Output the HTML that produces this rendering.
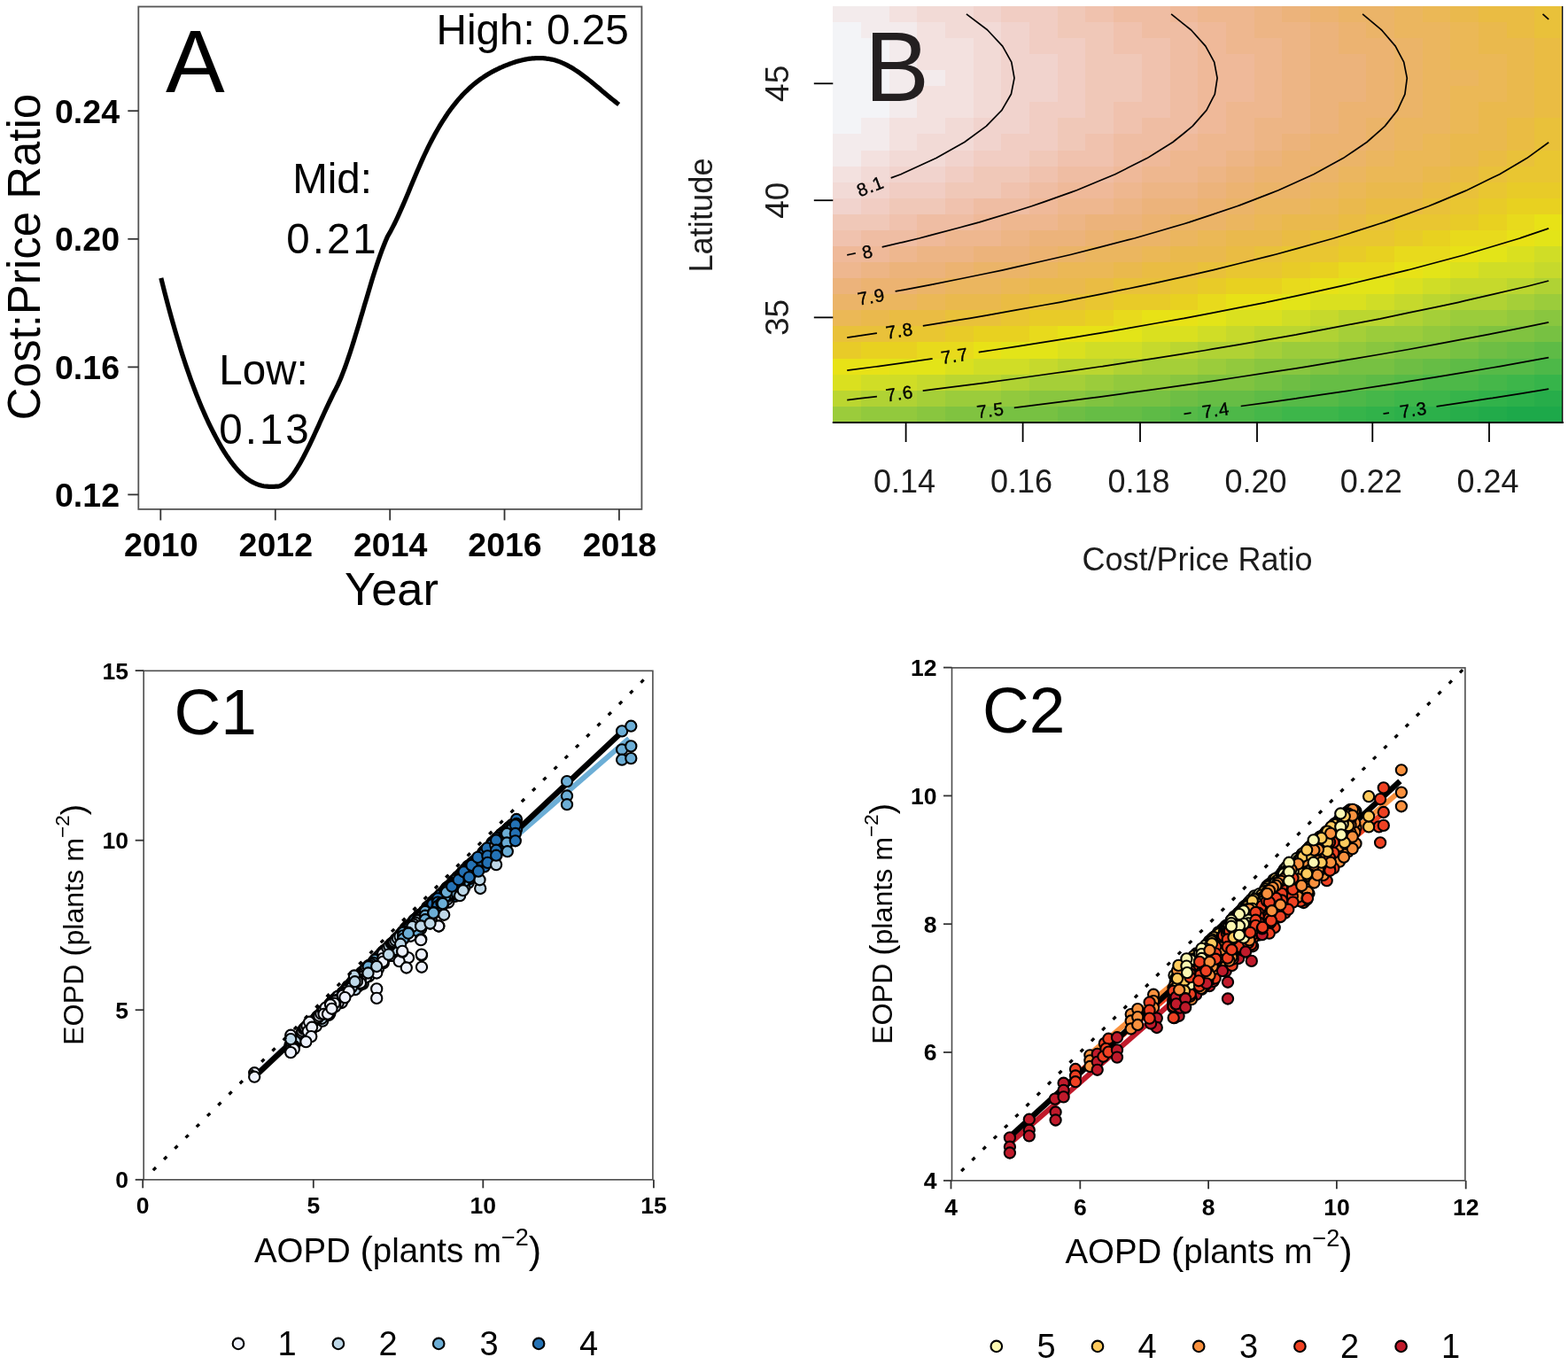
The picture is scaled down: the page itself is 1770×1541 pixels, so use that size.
<!DOCTYPE html>
<html lang="en"><head><meta charset="utf-8"><title>Figure</title>
<style>
html,body{margin:0;padding:0;background:#fff}
body{width:1770px;height:1541px;overflow:hidden}
svg{display:block}
text{font-family:"Liberation Sans",Arial,Helvetica,sans-serif}
</style></head><body>
<svg width="1770" height="1541" viewBox="0 0 1770 1541">
<rect width="1770" height="1541" fill="#fff"/>
<g id="panelA">
<rect x="156.3" y="7.5" width="568.1" height="567.4" fill="none" stroke="#555" stroke-width="1.8"/>
<line x1="144.3" y1="125.2" x2="156.3" y2="125.2" stroke="#333" stroke-width="1.8"/>
<text x="135" y="138.8" font-size="37.5" text-anchor="end" font-weight="bold">0.24</text>
<line x1="144.3" y1="269.8" x2="156.3" y2="269.8" stroke="#333" stroke-width="1.8"/>
<text x="135" y="283.4" font-size="37.5" text-anchor="end" font-weight="bold">0.20</text>
<line x1="144.3" y1="414.4" x2="156.3" y2="414.4" stroke="#333" stroke-width="1.8"/>
<text x="135" y="428" font-size="37.5" text-anchor="end" font-weight="bold">0.16</text>
<line x1="144.3" y1="558.4" x2="156.3" y2="558.4" stroke="#333" stroke-width="1.8"/>
<text x="135" y="572" font-size="37.5" text-anchor="end" font-weight="bold">0.12</text>
<line x1="181.3" y1="574.9" x2="181.3" y2="587.4" stroke="#333" stroke-width="1.8"/>
<text x="181.8" y="627.8" font-size="37.5" text-anchor="middle" font-weight="bold">2010</text>
<line x1="310.8" y1="574.9" x2="310.8" y2="587.4" stroke="#333" stroke-width="1.8"/>
<text x="311.3" y="627.8" font-size="37.5" text-anchor="middle" font-weight="bold">2012</text>
<line x1="440.2" y1="574.9" x2="440.2" y2="587.4" stroke="#333" stroke-width="1.8"/>
<text x="440.7" y="627.8" font-size="37.5" text-anchor="middle" font-weight="bold">2014</text>
<line x1="569.5" y1="574.9" x2="569.5" y2="587.4" stroke="#333" stroke-width="1.8"/>
<text x="570" y="627.8" font-size="37.5" text-anchor="middle" font-weight="bold">2016</text>
<line x1="698.9" y1="574.9" x2="698.9" y2="587.4" stroke="#333" stroke-width="1.8"/>
<text x="699.4" y="627.8" font-size="37.5" text-anchor="middle" font-weight="bold">2018</text>
<text x="442" y="682.8" font-size="52.5" text-anchor="middle">Year</text>
<text x="44.5" y="290" font-size="51" text-anchor="middle" transform="rotate(-90 44.5 290)">Cost:Price Ratio</text>
<text x="187" y="104.4" font-size="100">A</text>
<text x="492.5" y="50.3" font-size="47.7">High: 0.25</text>
<text x="375" y="217.6" font-size="47.5" text-anchor="middle">Mid:</text>
<text x="375.5" y="285.7" font-size="47.5" text-anchor="middle" letter-spacing="3">0.21</text>
<text x="297.5" y="433.6" font-size="47.5" text-anchor="middle">Low:</text>
<text x="299.5" y="501" font-size="47.5" text-anchor="middle" letter-spacing="3">0.13</text>
<path d="M181.8,313.9 L183.8,321.9 L185.8,329.8 L187.8,337.5 L189.8,345.1 L191.8,352.5 L193.8,359.7 L195.8,366.8 L197.8,373.7 L199.8,380.5 L201.8,387.1 L203.7,393.5 L205.7,399.9 L207.7,406.0 L209.7,412.1 L211.7,417.9 L213.7,423.7 L215.7,429.3 L217.7,434.7 L219.7,440.0 L221.7,445.2 L223.7,450.2 L225.7,455.2 L227.7,459.9 L229.7,464.6 L231.7,469.1 L233.7,473.5 L235.7,477.8 L237.7,481.9 L239.7,485.9 L241.7,489.8 L243.7,493.6 L245.7,497.3 L247.6,500.8 L249.6,504.3 L251.6,507.6 L253.6,510.8 L255.6,513.9 L257.6,516.8 L259.6,519.7 L261.6,522.4 L263.6,525.0 L265.6,527.4 L267.6,529.7 L269.6,531.9 L271.6,534.0 L273.6,535.9 L275.6,537.7 L277.6,539.3 L279.6,540.8 L281.6,542.2 L283.6,543.4 L285.6,544.6 L287.6,545.5 L289.5,546.4 L291.5,547.1 L293.5,547.8 L295.5,548.3 L297.5,548.7 L299.5,549.0 L301.5,549.2 L303.5,549.4 L305.5,549.4 L307.5,549.4 L309.5,549.3 L311.5,549.2 L313.5,549.1 L315.5,548.7 L317.5,548.0 L319.5,546.9 L321.5,545.5 L323.5,543.8 L325.5,541.9 L327.5,539.7 L329.5,537.2 L331.5,534.5 L333.4,531.6 L335.4,528.5 L337.4,525.2 L339.4,521.7 L341.4,518.1 L343.4,514.3 L345.4,510.4 L347.4,506.4 L349.4,502.3 L351.4,498.1 L353.4,493.8 L355.4,489.5 L357.4,485.1 L359.4,480.8 L361.4,476.3 L363.4,471.9 L365.4,467.5 L367.4,463.2 L369.4,458.9 L371.4,454.6 L373.4,450.5 L375.4,446.4 L377.3,442.4 L379.3,438.7 L381.3,434.6 L383.3,430.2 L385.3,425.4 L387.3,420.4 L389.3,415.1 L391.3,409.5 L393.3,403.7 L395.3,397.7 L397.3,391.5 L399.3,385.1 L401.3,378.6 L403.3,372.0 L405.3,365.4 L407.3,358.6 L409.3,351.9 L411.3,345.1 L413.3,338.4 L415.3,331.7 L417.3,325.0 L419.2,318.5 L421.2,312.0 L423.2,305.7 L425.2,299.6 L427.2,293.6 L429.2,287.9 L431.2,282.4 L433.2,277.2 L435.2,272.2 L437.2,267.6 L439.2,264.0 L441.2,260.4 L443.2,256.6 L445.2,252.7 L447.2,248.6 L449.2,244.3 L451.2,239.9 L453.2,235.4 L455.2,230.9 L457.2,226.2 L459.2,221.5 L461.2,216.8 L463.1,212.0 L465.1,207.3 L467.1,202.5 L469.1,197.8 L471.1,193.1 L473.1,188.4 L475.1,183.9 L477.1,179.4 L479.1,175.0 L481.1,170.8 L483.1,166.6 L485.1,162.6 L487.1,158.7 L489.1,155.0 L491.1,151.3 L493.1,147.7 L495.1,144.3 L497.1,140.9 L499.1,137.7 L501.1,134.6 L503.1,131.5 L505.0,128.6 L507.0,125.8 L509.0,123.0 L511.0,120.4 L513.0,117.8 L515.0,115.3 L517.0,112.9 L519.0,110.6 L521.0,108.4 L523.0,106.3 L525.0,104.2 L527.0,102.3 L529.0,100.4 L531.0,98.5 L533.0,96.8 L535.0,95.1 L537.0,93.4 L539.0,91.9 L541.0,90.4 L543.0,88.9 L545.0,87.6 L547.0,86.2 L548.9,85.0 L550.9,83.7 L552.9,82.6 L554.9,81.4 L556.9,80.4 L558.9,79.3 L560.9,78.3 L562.9,77.4 L564.9,76.4 L566.9,75.6 L568.9,74.7 L570.9,73.9 L572.9,73.1 L574.9,72.3 L576.9,71.6 L578.9,70.9 L580.9,70.2 L582.9,69.6 L584.9,69.0 L586.9,68.5 L588.9,68.0 L590.9,67.5 L592.8,67.1 L594.8,66.7 L596.8,66.4 L598.8,66.2 L600.8,65.9 L602.8,65.8 L604.8,65.6 L606.8,65.6 L608.8,65.5 L610.8,65.6 L612.8,65.7 L614.8,65.8 L616.8,66.1 L618.8,66.3 L620.8,66.7 L622.8,67.1 L624.8,67.6 L626.8,68.1 L628.8,68.7 L630.8,69.4 L632.8,70.1 L634.7,71.0 L636.7,71.9 L638.7,72.8 L640.7,73.9 L642.7,75.0 L644.7,76.1 L646.7,77.3 L648.7,78.6 L650.7,79.9 L652.7,81.2 L654.7,82.6 L656.7,84.1 L658.7,85.6 L660.7,87.1 L662.7,88.6 L664.7,90.2 L666.7,91.8 L668.7,93.4 L670.7,95.1 L672.7,96.7 L674.7,98.4 L676.7,100.0 L678.6,101.7 L680.6,103.4 L682.6,105.1 L684.6,106.7 L686.6,108.4 L688.6,110.1 L690.6,111.7 L692.6,113.3 L694.6,114.9 L696.6,116.5 L698.6,118.0" fill="none" stroke="#000" stroke-width="5.2" stroke-linejoin="round"/>
</g>
<g id="panelB">
<g shape-rendering="crispEdges">
<rect x="940" y="7" width="64" height="18" fill="#f3ebec"/>
<rect x="1004" y="7" width="31" height="18" fill="#f3e1df"/>
<rect x="1035" y="7" width="64" height="18" fill="#f2dad6"/>
<rect x="1099" y="7" width="31" height="18" fill="#f1d3cd"/>
<rect x="1130" y="7" width="64" height="18" fill="#f1cdc3"/>
<rect x="1194" y="7" width="31" height="18" fill="#f0c8b8"/>
<rect x="1225" y="7" width="32" height="18" fill="#f0c2ae"/>
<rect x="1257" y="7" width="64" height="18" fill="#efbda3"/>
<rect x="1321" y="7" width="31" height="18" fill="#efb999"/>
<rect x="1352" y="7" width="64" height="18" fill="#eeb78f"/>
<rect x="1416" y="7" width="31" height="18" fill="#edb585"/>
<rect x="1447" y="7" width="32" height="18" fill="#ecb37b"/>
<rect x="1479" y="7" width="32" height="18" fill="#ecb371"/>
<rect x="1511" y="7" width="63" height="18" fill="#ebb468"/>
<rect x="1574" y="7" width="32" height="18" fill="#ebb65f"/>
<rect x="1606" y="7" width="31" height="18" fill="#ebb856"/>
<rect x="1637" y="7" width="32" height="18" fill="#eab94d"/>
<rect x="1669" y="7" width="63" height="18" fill="#eabc43"/>
<rect x="1732" y="7" width="32" height="18" fill="#e9c13a"/>
<rect x="940" y="25" width="32" height="18" fill="#f3f4f7"/>
<rect x="972" y="25" width="63" height="18" fill="#f3ebec"/>
<rect x="1035" y="25" width="32" height="18" fill="#f3e1df"/>
<rect x="1067" y="25" width="63" height="18" fill="#f2dad6"/>
<rect x="1130" y="25" width="32" height="18" fill="#f1d3cd"/>
<rect x="1162" y="25" width="32" height="18" fill="#f1cdc3"/>
<rect x="1194" y="25" width="63" height="18" fill="#f0c8b8"/>
<rect x="1257" y="25" width="32" height="18" fill="#f0c2ae"/>
<rect x="1289" y="25" width="63" height="18" fill="#efbda3"/>
<rect x="1352" y="25" width="32" height="18" fill="#efb999"/>
<rect x="1384" y="25" width="32" height="18" fill="#eeb78f"/>
<rect x="1416" y="25" width="63" height="18" fill="#edb585"/>
<rect x="1479" y="25" width="32" height="18" fill="#ecb37b"/>
<rect x="1511" y="25" width="31" height="18" fill="#ecb371"/>
<rect x="1542" y="25" width="32" height="18" fill="#ebb468"/>
<rect x="1574" y="25" width="63" height="18" fill="#ebb65f"/>
<rect x="1637" y="25" width="32" height="18" fill="#ebb856"/>
<rect x="1669" y="25" width="32" height="18" fill="#eab94d"/>
<rect x="1701" y="25" width="31" height="18" fill="#eabc43"/>
<rect x="1732" y="25" width="32" height="18" fill="#e9c13a"/>
<rect x="940" y="43" width="64" height="18" fill="#f3f4f7"/>
<rect x="1004" y="43" width="31" height="18" fill="#f3ebec"/>
<rect x="1035" y="43" width="64" height="18" fill="#f3e1df"/>
<rect x="1099" y="43" width="31" height="18" fill="#f2dad6"/>
<rect x="1130" y="43" width="32" height="18" fill="#f1d3cd"/>
<rect x="1162" y="43" width="63" height="18" fill="#f1cdc3"/>
<rect x="1225" y="43" width="32" height="18" fill="#f0c8b8"/>
<rect x="1257" y="43" width="64" height="18" fill="#f0c2ae"/>
<rect x="1321" y="43" width="31" height="18" fill="#efbda3"/>
<rect x="1352" y="43" width="32" height="18" fill="#efb999"/>
<rect x="1384" y="43" width="63" height="18" fill="#eeb78f"/>
<rect x="1447" y="43" width="32" height="18" fill="#edb585"/>
<rect x="1479" y="43" width="32" height="18" fill="#ecb37b"/>
<rect x="1511" y="43" width="63" height="18" fill="#ecb371"/>
<rect x="1574" y="43" width="32" height="18" fill="#ebb468"/>
<rect x="1606" y="43" width="31" height="18" fill="#ebb65f"/>
<rect x="1637" y="43" width="32" height="18" fill="#ebb856"/>
<rect x="1669" y="43" width="63" height="18" fill="#eab94d"/>
<rect x="1732" y="43" width="32" height="18" fill="#eabc43"/>
<rect x="940" y="61" width="64" height="18" fill="#f3f4f7"/>
<rect x="1004" y="61" width="31" height="18" fill="#f3ebec"/>
<rect x="1035" y="61" width="64" height="18" fill="#f3e1df"/>
<rect x="1099" y="61" width="31" height="18" fill="#f2dad6"/>
<rect x="1130" y="61" width="64" height="18" fill="#f1d3cd"/>
<rect x="1194" y="61" width="31" height="18" fill="#f1cdc3"/>
<rect x="1225" y="61" width="64" height="18" fill="#f0c8b8"/>
<rect x="1289" y="61" width="32" height="18" fill="#f0c2ae"/>
<rect x="1321" y="61" width="31" height="18" fill="#efbda3"/>
<rect x="1352" y="61" width="64" height="18" fill="#efb999"/>
<rect x="1416" y="61" width="31" height="18" fill="#eeb78f"/>
<rect x="1447" y="61" width="32" height="18" fill="#edb585"/>
<rect x="1479" y="61" width="63" height="18" fill="#ecb37b"/>
<rect x="1542" y="61" width="32" height="18" fill="#ecb371"/>
<rect x="1574" y="61" width="32" height="18" fill="#ebb468"/>
<rect x="1606" y="61" width="31" height="18" fill="#ebb65f"/>
<rect x="1637" y="61" width="64" height="18" fill="#ebb856"/>
<rect x="1701" y="61" width="31" height="18" fill="#eab94d"/>
<rect x="1732" y="61" width="32" height="18" fill="#eabc43"/>
<rect x="940" y="79" width="64" height="18" fill="#f3f4f7"/>
<rect x="1004" y="79" width="63" height="18" fill="#f3ebec"/>
<rect x="1067" y="79" width="32" height="18" fill="#f3e1df"/>
<rect x="1099" y="79" width="31" height="18" fill="#f2dad6"/>
<rect x="1130" y="79" width="64" height="18" fill="#f1d3cd"/>
<rect x="1194" y="79" width="31" height="18" fill="#f1cdc3"/>
<rect x="1225" y="79" width="64" height="18" fill="#f0c8b8"/>
<rect x="1289" y="79" width="32" height="18" fill="#f0c2ae"/>
<rect x="1321" y="79" width="31" height="18" fill="#efbda3"/>
<rect x="1352" y="79" width="64" height="18" fill="#efb999"/>
<rect x="1416" y="79" width="31" height="18" fill="#eeb78f"/>
<rect x="1447" y="79" width="32" height="18" fill="#edb585"/>
<rect x="1479" y="79" width="63" height="18" fill="#ecb37b"/>
<rect x="1542" y="79" width="32" height="18" fill="#ecb371"/>
<rect x="1574" y="79" width="32" height="18" fill="#ebb468"/>
<rect x="1606" y="79" width="63" height="18" fill="#ebb65f"/>
<rect x="1669" y="79" width="32" height="18" fill="#ebb856"/>
<rect x="1701" y="79" width="31" height="18" fill="#eab94d"/>
<rect x="1732" y="79" width="32" height="18" fill="#eabc43"/>
<rect x="940" y="97" width="64" height="18" fill="#f3f4f7"/>
<rect x="1004" y="97" width="31" height="18" fill="#f3ebec"/>
<rect x="1035" y="97" width="64" height="18" fill="#f3e1df"/>
<rect x="1099" y="97" width="31" height="18" fill="#f2dad6"/>
<rect x="1130" y="97" width="64" height="18" fill="#f1d3cd"/>
<rect x="1194" y="97" width="31" height="18" fill="#f1cdc3"/>
<rect x="1225" y="97" width="64" height="18" fill="#f0c8b8"/>
<rect x="1289" y="97" width="32" height="18" fill="#f0c2ae"/>
<rect x="1321" y="97" width="31" height="18" fill="#efbda3"/>
<rect x="1352" y="97" width="64" height="18" fill="#efb999"/>
<rect x="1416" y="97" width="31" height="18" fill="#eeb78f"/>
<rect x="1447" y="97" width="32" height="18" fill="#edb585"/>
<rect x="1479" y="97" width="63" height="18" fill="#ecb37b"/>
<rect x="1542" y="97" width="32" height="18" fill="#ecb371"/>
<rect x="1574" y="97" width="32" height="18" fill="#ebb468"/>
<rect x="1606" y="97" width="31" height="18" fill="#ebb65f"/>
<rect x="1637" y="97" width="64" height="18" fill="#ebb856"/>
<rect x="1701" y="97" width="31" height="18" fill="#eab94d"/>
<rect x="1732" y="97" width="32" height="18" fill="#eabc43"/>
<rect x="940" y="115" width="64" height="18" fill="#f3f4f7"/>
<rect x="1004" y="115" width="31" height="18" fill="#f3ebec"/>
<rect x="1035" y="115" width="64" height="18" fill="#f3e1df"/>
<rect x="1099" y="115" width="31" height="18" fill="#f2dad6"/>
<rect x="1130" y="115" width="32" height="18" fill="#f1d3cd"/>
<rect x="1162" y="115" width="63" height="18" fill="#f1cdc3"/>
<rect x="1225" y="115" width="32" height="18" fill="#f0c8b8"/>
<rect x="1257" y="115" width="64" height="18" fill="#f0c2ae"/>
<rect x="1321" y="115" width="31" height="18" fill="#efbda3"/>
<rect x="1352" y="115" width="32" height="18" fill="#efb999"/>
<rect x="1384" y="115" width="63" height="18" fill="#eeb78f"/>
<rect x="1447" y="115" width="32" height="18" fill="#edb585"/>
<rect x="1479" y="115" width="32" height="18" fill="#ecb37b"/>
<rect x="1511" y="115" width="63" height="18" fill="#ecb371"/>
<rect x="1574" y="115" width="32" height="18" fill="#ebb468"/>
<rect x="1606" y="115" width="31" height="18" fill="#ebb65f"/>
<rect x="1637" y="115" width="32" height="18" fill="#ebb856"/>
<rect x="1669" y="115" width="63" height="18" fill="#eab94d"/>
<rect x="1732" y="115" width="32" height="18" fill="#eabc43"/>
<rect x="940" y="133" width="32" height="18" fill="#f3f4f7"/>
<rect x="972" y="133" width="32" height="18" fill="#f3ebec"/>
<rect x="1004" y="133" width="63" height="18" fill="#f3e1df"/>
<rect x="1067" y="133" width="32" height="18" fill="#f2dad6"/>
<rect x="1099" y="133" width="63" height="18" fill="#f1d3cd"/>
<rect x="1162" y="133" width="32" height="18" fill="#f1cdc3"/>
<rect x="1194" y="133" width="63" height="18" fill="#f0c8b8"/>
<rect x="1257" y="133" width="32" height="18" fill="#f0c2ae"/>
<rect x="1289" y="133" width="63" height="18" fill="#efbda3"/>
<rect x="1352" y="133" width="32" height="18" fill="#efb999"/>
<rect x="1384" y="133" width="32" height="18" fill="#eeb78f"/>
<rect x="1416" y="133" width="63" height="18" fill="#edb585"/>
<rect x="1479" y="133" width="32" height="18" fill="#ecb37b"/>
<rect x="1511" y="133" width="31" height="18" fill="#ecb371"/>
<rect x="1542" y="133" width="32" height="18" fill="#ebb468"/>
<rect x="1574" y="133" width="63" height="18" fill="#ebb65f"/>
<rect x="1637" y="133" width="32" height="18" fill="#ebb856"/>
<rect x="1669" y="133" width="32" height="18" fill="#eab94d"/>
<rect x="1701" y="133" width="31" height="18" fill="#eabc43"/>
<rect x="1732" y="133" width="32" height="18" fill="#e9c13a"/>
<rect x="940" y="151" width="64" height="19" fill="#f3ebec"/>
<rect x="1004" y="151" width="31" height="19" fill="#f3e1df"/>
<rect x="1035" y="151" width="64" height="19" fill="#f2dad6"/>
<rect x="1099" y="151" width="31" height="19" fill="#f1d3cd"/>
<rect x="1130" y="151" width="64" height="19" fill="#f1cdc3"/>
<rect x="1194" y="151" width="31" height="19" fill="#f0c8b8"/>
<rect x="1225" y="151" width="32" height="19" fill="#f0c2ae"/>
<rect x="1257" y="151" width="64" height="19" fill="#efbda3"/>
<rect x="1321" y="151" width="31" height="19" fill="#efb999"/>
<rect x="1352" y="151" width="64" height="19" fill="#eeb78f"/>
<rect x="1416" y="151" width="31" height="19" fill="#edb585"/>
<rect x="1447" y="151" width="32" height="19" fill="#ecb37b"/>
<rect x="1479" y="151" width="63" height="19" fill="#ecb371"/>
<rect x="1542" y="151" width="32" height="19" fill="#ebb468"/>
<rect x="1574" y="151" width="32" height="19" fill="#ebb65f"/>
<rect x="1606" y="151" width="31" height="19" fill="#ebb856"/>
<rect x="1637" y="151" width="64" height="19" fill="#eab94d"/>
<rect x="1701" y="151" width="31" height="19" fill="#eabc43"/>
<rect x="1732" y="151" width="32" height="19" fill="#e9c13a"/>
<rect x="940" y="170" width="32" height="18" fill="#f3ebec"/>
<rect x="972" y="170" width="32" height="18" fill="#f3e1df"/>
<rect x="1004" y="170" width="63" height="18" fill="#f2dad6"/>
<rect x="1067" y="170" width="32" height="18" fill="#f1d3cd"/>
<rect x="1099" y="170" width="63" height="18" fill="#f1cdc3"/>
<rect x="1162" y="170" width="32" height="18" fill="#f0c8b8"/>
<rect x="1194" y="170" width="63" height="18" fill="#f0c2ae"/>
<rect x="1257" y="170" width="32" height="18" fill="#efbda3"/>
<rect x="1289" y="170" width="32" height="18" fill="#efb999"/>
<rect x="1321" y="170" width="63" height="18" fill="#eeb78f"/>
<rect x="1384" y="170" width="32" height="18" fill="#edb585"/>
<rect x="1416" y="170" width="31" height="18" fill="#ecb37b"/>
<rect x="1447" y="170" width="64" height="18" fill="#ecb371"/>
<rect x="1511" y="170" width="31" height="18" fill="#ebb468"/>
<rect x="1542" y="170" width="32" height="18" fill="#ebb65f"/>
<rect x="1574" y="170" width="63" height="18" fill="#ebb856"/>
<rect x="1637" y="170" width="32" height="18" fill="#eab94d"/>
<rect x="1669" y="170" width="32" height="18" fill="#eabc43"/>
<rect x="1701" y="170" width="31" height="18" fill="#e9c13a"/>
<rect x="1732" y="170" width="32" height="18" fill="#e9c631"/>
<rect x="940" y="188" width="32" height="18" fill="#f3e1df"/>
<rect x="972" y="188" width="32" height="18" fill="#f2dad6"/>
<rect x="1004" y="188" width="63" height="18" fill="#f1d3cd"/>
<rect x="1067" y="188" width="32" height="18" fill="#f1cdc3"/>
<rect x="1099" y="188" width="63" height="18" fill="#f0c8b8"/>
<rect x="1162" y="188" width="32" height="18" fill="#f0c2ae"/>
<rect x="1194" y="188" width="63" height="18" fill="#efbda3"/>
<rect x="1257" y="188" width="32" height="18" fill="#efb999"/>
<rect x="1289" y="188" width="63" height="18" fill="#eeb78f"/>
<rect x="1352" y="188" width="32" height="18" fill="#edb585"/>
<rect x="1384" y="188" width="32" height="18" fill="#ecb37b"/>
<rect x="1416" y="188" width="63" height="18" fill="#ecb371"/>
<rect x="1479" y="188" width="32" height="18" fill="#ebb468"/>
<rect x="1511" y="188" width="31" height="18" fill="#ebb65f"/>
<rect x="1542" y="188" width="64" height="18" fill="#ebb856"/>
<rect x="1606" y="188" width="31" height="18" fill="#eab94d"/>
<rect x="1637" y="188" width="32" height="18" fill="#eabc43"/>
<rect x="1669" y="188" width="32" height="18" fill="#e9c13a"/>
<rect x="1701" y="188" width="63" height="18" fill="#e9c631"/>
<rect x="940" y="206" width="32" height="18" fill="#f2dad6"/>
<rect x="972" y="206" width="32" height="18" fill="#f1d3cd"/>
<rect x="1004" y="206" width="63" height="18" fill="#f1cdc3"/>
<rect x="1067" y="206" width="63" height="18" fill="#f0c8b8"/>
<rect x="1130" y="206" width="32" height="18" fill="#f0c2ae"/>
<rect x="1162" y="206" width="32" height="18" fill="#efbda3"/>
<rect x="1194" y="206" width="63" height="18" fill="#efb999"/>
<rect x="1257" y="206" width="32" height="18" fill="#eeb78f"/>
<rect x="1289" y="206" width="63" height="18" fill="#edb585"/>
<rect x="1352" y="206" width="32" height="18" fill="#ecb37b"/>
<rect x="1384" y="206" width="32" height="18" fill="#ecb371"/>
<rect x="1416" y="206" width="63" height="18" fill="#ebb468"/>
<rect x="1479" y="206" width="32" height="18" fill="#ebb65f"/>
<rect x="1511" y="206" width="31" height="18" fill="#ebb856"/>
<rect x="1542" y="206" width="64" height="18" fill="#eab94d"/>
<rect x="1606" y="206" width="31" height="18" fill="#eabc43"/>
<rect x="1637" y="206" width="32" height="18" fill="#e9c13a"/>
<rect x="1669" y="206" width="32" height="18" fill="#e9c631"/>
<rect x="1701" y="206" width="63" height="18" fill="#e8cb28"/>
<rect x="940" y="224" width="32" height="18" fill="#f1d3cd"/>
<rect x="972" y="224" width="32" height="18" fill="#f1cdc3"/>
<rect x="1004" y="224" width="63" height="18" fill="#f0c8b8"/>
<rect x="1067" y="224" width="32" height="18" fill="#f0c2ae"/>
<rect x="1099" y="224" width="63" height="18" fill="#efbda3"/>
<rect x="1162" y="224" width="32" height="18" fill="#efb999"/>
<rect x="1194" y="224" width="63" height="18" fill="#eeb78f"/>
<rect x="1257" y="224" width="32" height="18" fill="#edb585"/>
<rect x="1289" y="224" width="63" height="18" fill="#ecb37b"/>
<rect x="1352" y="224" width="32" height="18" fill="#ecb371"/>
<rect x="1384" y="224" width="32" height="18" fill="#ebb468"/>
<rect x="1416" y="224" width="63" height="18" fill="#ebb65f"/>
<rect x="1479" y="224" width="32" height="18" fill="#ebb856"/>
<rect x="1511" y="224" width="31" height="18" fill="#eab94d"/>
<rect x="1542" y="224" width="64" height="18" fill="#eabc43"/>
<rect x="1606" y="224" width="31" height="18" fill="#e9c13a"/>
<rect x="1637" y="224" width="32" height="18" fill="#e9c631"/>
<rect x="1669" y="224" width="32" height="18" fill="#e8cb28"/>
<rect x="1701" y="224" width="63" height="18" fill="#e8d120"/>
<rect x="940" y="242" width="64" height="18" fill="#f0c8b8"/>
<rect x="1004" y="242" width="31" height="18" fill="#f0c2ae"/>
<rect x="1035" y="242" width="64" height="18" fill="#efbda3"/>
<rect x="1099" y="242" width="31" height="18" fill="#efb999"/>
<rect x="1130" y="242" width="64" height="18" fill="#eeb78f"/>
<rect x="1194" y="242" width="31" height="18" fill="#edb585"/>
<rect x="1225" y="242" width="64" height="18" fill="#ecb37b"/>
<rect x="1289" y="242" width="32" height="18" fill="#ecb371"/>
<rect x="1321" y="242" width="63" height="18" fill="#ebb468"/>
<rect x="1384" y="242" width="32" height="18" fill="#ebb65f"/>
<rect x="1416" y="242" width="31" height="18" fill="#ebb856"/>
<rect x="1447" y="242" width="64" height="18" fill="#eab94d"/>
<rect x="1511" y="242" width="31" height="18" fill="#eabc43"/>
<rect x="1542" y="242" width="32" height="18" fill="#e9c13a"/>
<rect x="1574" y="242" width="63" height="18" fill="#e9c631"/>
<rect x="1637" y="242" width="32" height="18" fill="#e8cb28"/>
<rect x="1669" y="242" width="32" height="18" fill="#e8d120"/>
<rect x="1701" y="242" width="31" height="18" fill="#e8da1c"/>
<rect x="1732" y="242" width="32" height="18" fill="#e8e216"/>
<rect x="940" y="260" width="32" height="18" fill="#f0c2ae"/>
<rect x="972" y="260" width="63" height="18" fill="#efbda3"/>
<rect x="1035" y="260" width="32" height="18" fill="#efb999"/>
<rect x="1067" y="260" width="63" height="18" fill="#eeb78f"/>
<rect x="1130" y="260" width="32" height="18" fill="#edb585"/>
<rect x="1162" y="260" width="63" height="18" fill="#ecb37b"/>
<rect x="1225" y="260" width="32" height="18" fill="#ecb371"/>
<rect x="1257" y="260" width="64" height="18" fill="#ebb468"/>
<rect x="1321" y="260" width="31" height="18" fill="#ebb65f"/>
<rect x="1352" y="260" width="32" height="18" fill="#ebb856"/>
<rect x="1384" y="260" width="63" height="18" fill="#eab94d"/>
<rect x="1447" y="260" width="32" height="18" fill="#eabc43"/>
<rect x="1479" y="260" width="32" height="18" fill="#e9c13a"/>
<rect x="1511" y="260" width="63" height="18" fill="#e9c631"/>
<rect x="1574" y="260" width="32" height="18" fill="#e8cb28"/>
<rect x="1606" y="260" width="31" height="18" fill="#e8d120"/>
<rect x="1637" y="260" width="64" height="18" fill="#e8da1c"/>
<rect x="1701" y="260" width="31" height="18" fill="#e8e216"/>
<rect x="1732" y="260" width="32" height="18" fill="#e3e418"/>
<rect x="940" y="278" width="64" height="18" fill="#efb999"/>
<rect x="1004" y="278" width="31" height="18" fill="#eeb78f"/>
<rect x="1035" y="278" width="64" height="18" fill="#edb585"/>
<rect x="1099" y="278" width="63" height="18" fill="#ecb37b"/>
<rect x="1162" y="278" width="32" height="18" fill="#ecb371"/>
<rect x="1194" y="278" width="31" height="18" fill="#ebb468"/>
<rect x="1225" y="278" width="64" height="18" fill="#ebb65f"/>
<rect x="1289" y="278" width="32" height="18" fill="#ebb856"/>
<rect x="1321" y="278" width="63" height="18" fill="#eab94d"/>
<rect x="1384" y="278" width="32" height="18" fill="#eabc43"/>
<rect x="1416" y="278" width="31" height="18" fill="#e9c13a"/>
<rect x="1447" y="278" width="64" height="18" fill="#e9c631"/>
<rect x="1511" y="278" width="31" height="18" fill="#e8cb28"/>
<rect x="1542" y="278" width="32" height="18" fill="#e8d120"/>
<rect x="1574" y="278" width="63" height="18" fill="#e8da1c"/>
<rect x="1637" y="278" width="32" height="18" fill="#e8e216"/>
<rect x="1669" y="278" width="32" height="18" fill="#e3e418"/>
<rect x="1701" y="278" width="31" height="18" fill="#dae01f"/>
<rect x="1732" y="278" width="32" height="18" fill="#d0dd26"/>
<rect x="940" y="296" width="32" height="18" fill="#eeb78f"/>
<rect x="972" y="296" width="32" height="18" fill="#edb585"/>
<rect x="1004" y="296" width="63" height="18" fill="#ecb37b"/>
<rect x="1067" y="296" width="32" height="18" fill="#ecb371"/>
<rect x="1099" y="296" width="63" height="18" fill="#ebb468"/>
<rect x="1162" y="296" width="32" height="18" fill="#ebb65f"/>
<rect x="1194" y="296" width="63" height="18" fill="#ebb856"/>
<rect x="1257" y="296" width="32" height="18" fill="#eab94d"/>
<rect x="1289" y="296" width="63" height="18" fill="#eabc43"/>
<rect x="1352" y="296" width="32" height="18" fill="#e9c13a"/>
<rect x="1384" y="296" width="63" height="18" fill="#e9c631"/>
<rect x="1447" y="296" width="32" height="18" fill="#e8cb28"/>
<rect x="1479" y="296" width="32" height="18" fill="#e8d120"/>
<rect x="1511" y="296" width="63" height="18" fill="#e8da1c"/>
<rect x="1574" y="296" width="32" height="18" fill="#e8e216"/>
<rect x="1606" y="296" width="31" height="18" fill="#e3e418"/>
<rect x="1637" y="296" width="32" height="18" fill="#dae01f"/>
<rect x="1669" y="296" width="63" height="18" fill="#d0dd26"/>
<rect x="1732" y="296" width="32" height="18" fill="#c6d92c"/>
<rect x="940" y="314" width="32" height="18" fill="#ecb37b"/>
<rect x="972" y="314" width="63" height="18" fill="#ecb371"/>
<rect x="1035" y="314" width="32" height="18" fill="#ebb468"/>
<rect x="1067" y="314" width="63" height="18" fill="#ebb65f"/>
<rect x="1130" y="314" width="32" height="18" fill="#ebb856"/>
<rect x="1162" y="314" width="63" height="18" fill="#eab94d"/>
<rect x="1225" y="314" width="32" height="18" fill="#eabc43"/>
<rect x="1257" y="314" width="64" height="18" fill="#e9c13a"/>
<rect x="1321" y="314" width="31" height="18" fill="#e9c631"/>
<rect x="1352" y="314" width="32" height="18" fill="#e8cb28"/>
<rect x="1384" y="314" width="63" height="18" fill="#e8d120"/>
<rect x="1447" y="314" width="32" height="18" fill="#e8da1c"/>
<rect x="1479" y="314" width="32" height="18" fill="#e8e216"/>
<rect x="1511" y="314" width="63" height="18" fill="#e3e418"/>
<rect x="1574" y="314" width="32" height="18" fill="#dae01f"/>
<rect x="1606" y="314" width="31" height="18" fill="#d0dd26"/>
<rect x="1637" y="314" width="64" height="18" fill="#c6d92c"/>
<rect x="1701" y="314" width="31" height="18" fill="#bbd630"/>
<rect x="1732" y="314" width="32" height="18" fill="#b0d234"/>
<rect x="940" y="332" width="32" height="18" fill="#ebb468"/>
<rect x="972" y="332" width="63" height="18" fill="#ebb65f"/>
<rect x="1035" y="332" width="32" height="18" fill="#ebb856"/>
<rect x="1067" y="332" width="63" height="18" fill="#eab94d"/>
<rect x="1130" y="332" width="32" height="18" fill="#eabc43"/>
<rect x="1162" y="332" width="63" height="18" fill="#e9c13a"/>
<rect x="1225" y="332" width="32" height="18" fill="#e9c631"/>
<rect x="1257" y="332" width="64" height="18" fill="#e8cb28"/>
<rect x="1321" y="332" width="31" height="18" fill="#e8d120"/>
<rect x="1352" y="332" width="32" height="18" fill="#e8da1c"/>
<rect x="1384" y="332" width="63" height="18" fill="#e8e216"/>
<rect x="1447" y="332" width="32" height="18" fill="#e3e418"/>
<rect x="1479" y="332" width="63" height="18" fill="#dae01f"/>
<rect x="1542" y="332" width="32" height="18" fill="#d0dd26"/>
<rect x="1574" y="332" width="32" height="18" fill="#c6d92c"/>
<rect x="1606" y="332" width="31" height="18" fill="#bbd630"/>
<rect x="1637" y="332" width="64" height="18" fill="#b0d234"/>
<rect x="1701" y="332" width="31" height="18" fill="#a5cf38"/>
<rect x="1732" y="332" width="32" height="18" fill="#9bcc3b"/>
<rect x="940" y="350" width="32" height="18" fill="#ebb856"/>
<rect x="972" y="350" width="32" height="18" fill="#eab94d"/>
<rect x="1004" y="350" width="63" height="18" fill="#eabc43"/>
<rect x="1067" y="350" width="63" height="18" fill="#e9c13a"/>
<rect x="1130" y="350" width="32" height="18" fill="#e9c631"/>
<rect x="1162" y="350" width="63" height="18" fill="#e8cb28"/>
<rect x="1225" y="350" width="32" height="18" fill="#e8d120"/>
<rect x="1257" y="350" width="32" height="18" fill="#e8da1c"/>
<rect x="1289" y="350" width="63" height="18" fill="#e8e216"/>
<rect x="1352" y="350" width="32" height="18" fill="#e3e418"/>
<rect x="1384" y="350" width="63" height="18" fill="#dae01f"/>
<rect x="1447" y="350" width="32" height="18" fill="#d0dd26"/>
<rect x="1479" y="350" width="32" height="18" fill="#c6d92c"/>
<rect x="1511" y="350" width="63" height="18" fill="#bbd630"/>
<rect x="1574" y="350" width="32" height="18" fill="#b0d234"/>
<rect x="1606" y="350" width="31" height="18" fill="#a5cf38"/>
<rect x="1637" y="350" width="64" height="18" fill="#9bcc3b"/>
<rect x="1701" y="350" width="31" height="18" fill="#92c93d"/>
<rect x="1732" y="350" width="32" height="18" fill="#89c63f"/>
<rect x="940" y="368" width="64" height="18" fill="#e9c13a"/>
<rect x="1004" y="368" width="63" height="18" fill="#e9c631"/>
<rect x="1067" y="368" width="32" height="18" fill="#e8cb28"/>
<rect x="1099" y="368" width="63" height="18" fill="#e8d120"/>
<rect x="1162" y="368" width="32" height="18" fill="#e8da1c"/>
<rect x="1194" y="368" width="63" height="18" fill="#e8e216"/>
<rect x="1257" y="368" width="32" height="18" fill="#e3e418"/>
<rect x="1289" y="368" width="63" height="18" fill="#dae01f"/>
<rect x="1352" y="368" width="32" height="18" fill="#d0dd26"/>
<rect x="1384" y="368" width="32" height="18" fill="#c6d92c"/>
<rect x="1416" y="368" width="63" height="18" fill="#bbd630"/>
<rect x="1479" y="368" width="32" height="18" fill="#b0d234"/>
<rect x="1511" y="368" width="31" height="18" fill="#a5cf38"/>
<rect x="1542" y="368" width="64" height="18" fill="#9bcc3b"/>
<rect x="1606" y="368" width="31" height="18" fill="#92c93d"/>
<rect x="1637" y="368" width="32" height="18" fill="#89c63f"/>
<rect x="1669" y="368" width="63" height="18" fill="#80c340"/>
<rect x="1732" y="368" width="32" height="18" fill="#77c142"/>
<rect x="940" y="386" width="32" height="19" fill="#e8cb28"/>
<rect x="972" y="386" width="63" height="19" fill="#e8d120"/>
<rect x="1035" y="386" width="64" height="19" fill="#e8da1c"/>
<rect x="1099" y="386" width="31" height="19" fill="#e8e216"/>
<rect x="1130" y="386" width="64" height="19" fill="#e3e418"/>
<rect x="1194" y="386" width="31" height="19" fill="#dae01f"/>
<rect x="1225" y="386" width="64" height="19" fill="#d0dd26"/>
<rect x="1289" y="386" width="32" height="19" fill="#c6d92c"/>
<rect x="1321" y="386" width="31" height="19" fill="#bbd630"/>
<rect x="1352" y="386" width="64" height="19" fill="#b0d234"/>
<rect x="1416" y="386" width="31" height="19" fill="#a5cf38"/>
<rect x="1447" y="386" width="64" height="19" fill="#9bcc3b"/>
<rect x="1511" y="386" width="31" height="19" fill="#92c93d"/>
<rect x="1542" y="386" width="32" height="19" fill="#89c63f"/>
<rect x="1574" y="386" width="63" height="19" fill="#80c340"/>
<rect x="1637" y="386" width="32" height="19" fill="#77c142"/>
<rect x="1669" y="386" width="32" height="19" fill="#6ebe44"/>
<rect x="1701" y="386" width="31" height="19" fill="#66bd45"/>
<rect x="1732" y="386" width="32" height="19" fill="#5ebb46"/>
<rect x="940" y="405" width="64" height="18" fill="#e8e216"/>
<rect x="1004" y="405" width="63" height="18" fill="#e3e418"/>
<rect x="1067" y="405" width="32" height="18" fill="#dae01f"/>
<rect x="1099" y="405" width="63" height="18" fill="#d0dd26"/>
<rect x="1162" y="405" width="32" height="18" fill="#c6d92c"/>
<rect x="1194" y="405" width="63" height="18" fill="#bbd630"/>
<rect x="1257" y="405" width="32" height="18" fill="#b0d234"/>
<rect x="1289" y="405" width="63" height="18" fill="#a5cf38"/>
<rect x="1352" y="405" width="32" height="18" fill="#9bcc3b"/>
<rect x="1384" y="405" width="32" height="18" fill="#92c93d"/>
<rect x="1416" y="405" width="63" height="18" fill="#89c63f"/>
<rect x="1479" y="405" width="32" height="18" fill="#80c340"/>
<rect x="1511" y="405" width="63" height="18" fill="#77c142"/>
<rect x="1574" y="405" width="32" height="18" fill="#6ebe44"/>
<rect x="1606" y="405" width="31" height="18" fill="#66bd45"/>
<rect x="1637" y="405" width="32" height="18" fill="#5ebb46"/>
<rect x="1669" y="405" width="63" height="18" fill="#56ba47"/>
<rect x="1732" y="405" width="32" height="18" fill="#4db848"/>
<rect x="940" y="423" width="32" height="18" fill="#dae01f"/>
<rect x="972" y="423" width="63" height="18" fill="#d0dd26"/>
<rect x="1035" y="423" width="32" height="18" fill="#c6d92c"/>
<rect x="1067" y="423" width="63" height="18" fill="#bbd630"/>
<rect x="1130" y="423" width="32" height="18" fill="#b0d234"/>
<rect x="1162" y="423" width="63" height="18" fill="#a5cf38"/>
<rect x="1225" y="423" width="32" height="18" fill="#9bcc3b"/>
<rect x="1257" y="423" width="64" height="18" fill="#92c93d"/>
<rect x="1321" y="423" width="31" height="18" fill="#89c63f"/>
<rect x="1352" y="423" width="64" height="18" fill="#80c340"/>
<rect x="1416" y="423" width="31" height="18" fill="#77c142"/>
<rect x="1447" y="423" width="32" height="18" fill="#6ebe44"/>
<rect x="1479" y="423" width="63" height="18" fill="#66bd45"/>
<rect x="1542" y="423" width="32" height="18" fill="#5ebb46"/>
<rect x="1574" y="423" width="32" height="18" fill="#56ba47"/>
<rect x="1606" y="423" width="63" height="18" fill="#4db848"/>
<rect x="1669" y="423" width="32" height="18" fill="#45b749"/>
<rect x="1701" y="423" width="31" height="18" fill="#3db64a"/>
<rect x="1732" y="423" width="32" height="18" fill="#36b44a"/>
<rect x="940" y="441" width="32" height="18" fill="#bbd630"/>
<rect x="972" y="441" width="63" height="18" fill="#b0d234"/>
<rect x="1035" y="441" width="32" height="18" fill="#a5cf38"/>
<rect x="1067" y="441" width="63" height="18" fill="#9bcc3b"/>
<rect x="1130" y="441" width="32" height="18" fill="#92c93d"/>
<rect x="1162" y="441" width="63" height="18" fill="#89c63f"/>
<rect x="1225" y="441" width="32" height="18" fill="#80c340"/>
<rect x="1257" y="441" width="64" height="18" fill="#77c142"/>
<rect x="1321" y="441" width="31" height="18" fill="#6ebe44"/>
<rect x="1352" y="441" width="64" height="18" fill="#66bd45"/>
<rect x="1416" y="441" width="31" height="18" fill="#5ebb46"/>
<rect x="1447" y="441" width="64" height="18" fill="#56ba47"/>
<rect x="1511" y="441" width="31" height="18" fill="#4db848"/>
<rect x="1542" y="441" width="32" height="18" fill="#45b749"/>
<rect x="1574" y="441" width="63" height="18" fill="#3db64a"/>
<rect x="1637" y="441" width="32" height="18" fill="#36b44a"/>
<rect x="1669" y="441" width="32" height="18" fill="#31b24a"/>
<rect x="1701" y="441" width="31" height="18" fill="#2cb04a"/>
<rect x="1732" y="441" width="32" height="18" fill="#27ad4a"/>
<rect x="940" y="459" width="32" height="18" fill="#9bcc3b"/>
<rect x="972" y="459" width="63" height="18" fill="#92c93d"/>
<rect x="1035" y="459" width="32" height="18" fill="#89c63f"/>
<rect x="1067" y="459" width="63" height="18" fill="#80c340"/>
<rect x="1130" y="459" width="64" height="18" fill="#77c142"/>
<rect x="1194" y="459" width="31" height="18" fill="#6ebe44"/>
<rect x="1225" y="459" width="64" height="18" fill="#66bd45"/>
<rect x="1289" y="459" width="32" height="18" fill="#5ebb46"/>
<rect x="1321" y="459" width="31" height="18" fill="#56ba47"/>
<rect x="1352" y="459" width="64" height="18" fill="#4db848"/>
<rect x="1416" y="459" width="31" height="18" fill="#45b749"/>
<rect x="1447" y="459" width="64" height="18" fill="#3db64a"/>
<rect x="1511" y="459" width="31" height="18" fill="#36b44a"/>
<rect x="1542" y="459" width="32" height="18" fill="#31b24a"/>
<rect x="1574" y="459" width="63" height="18" fill="#2cb04a"/>
<rect x="1637" y="459" width="32" height="18" fill="#27ad4a"/>
<rect x="1669" y="459" width="32" height="18" fill="#22ab4a"/>
<rect x="1701" y="459" width="63" height="18" fill="#1da94a"/>
</g>
<path d="M1748.2,439.2 L1716.5,444.3 L1684.8,449.4 L1682.5,449.7 L1653.2,454.1 L1621.5,458.9" fill="none" stroke="#000" stroke-width="1.7" stroke-linejoin="round"/>
<path d="M1748.2,403.7 L1716.5,409.4 L1693.3,413.6 L1684.8,415.0 L1653.2,420.3 L1621.5,425.6 L1589.8,430.7 L1584.2,431.6 L1558.1,435.6 L1526.4,440.5 L1494.8,445.2 L1464.3,449.7 L1463.1,449.9 L1431.4,454.3 L1400.7,458.5" fill="none" stroke="#000" stroke-width="1.7" stroke-linejoin="round"/>
<path d="M1748.2,363.8 L1716.5,370.3 L1684.8,376.7 L1681.2,377.4 L1653.2,382.7 L1621.5,388.6 L1589.8,394.5 L1584.1,395.5 L1558.1,400.0 L1526.4,405.3 L1494.8,410.6 L1477.1,413.6 L1463.1,415.8 L1431.4,420.7 L1399.7,425.5 L1368.0,430.3 L1359.3,431.6 L1336.4,434.9 L1304.7,439.3 L1273.0,443.7 L1241.3,448.1 L1229.0,449.7 L1209.6,452.2 L1178.0,456.2 L1146.3,460.2 L1144.8,460.4" fill="none" stroke="#000" stroke-width="1.7" stroke-linejoin="round"/>
<path d="M1748.2,317.0 L1724.0,323.2 L1716.5,325.0 L1684.8,332.4 L1653.2,339.7 L1646.3,341.3 L1621.5,346.6 L1589.8,353.2 L1560.4,359.3 L1558.1,359.8 L1526.4,365.9 L1494.8,371.9 L1465.5,377.4 L1463.1,377.9 L1431.4,383.4 L1399.7,388.8 L1368.0,394.2 L1360.6,395.5 L1336.4,399.3 L1304.7,404.3 L1273.0,409.2 L1244.6,413.6 L1241.3,414.0 L1209.6,418.6 L1178.0,423.0 L1146.3,427.5 L1115.8,431.6 L1114.6,431.8 L1082.9,435.9 L1051.2,439.9 L1041.7,441.1" fill="none" stroke="#000" stroke-width="1.7" stroke-linejoin="round"/>
<path d="M989.9,447.6 L987.9,447.8 L972.1,449.7 L956.2,451.6" fill="none" stroke="#000" stroke-width="1.7" stroke-linejoin="round"/>
<path d="M1748.2,257.9 L1716.5,268.6 L1715.6,269.0 L1684.8,278.3 L1655.5,287.0 L1653.2,287.7 L1621.5,296.2 L1589.8,304.7 L1588.1,305.1 L1558.1,312.4 L1526.4,320.0 L1512.9,323.2 L1494.8,327.2 L1463.1,334.1 L1431.4,340.8 L1429.4,341.3 L1399.7,347.1 L1368.0,353.3 L1336.6,359.3 L1336.4,359.4 L1304.7,365.0 L1273.0,370.6 L1241.3,376.1 L1233.5,377.4 L1209.6,381.3 L1178.0,386.3 L1146.3,391.3 L1119.0,395.5 L1114.6,396.1 L1104.7,397.6" fill="none" stroke="#000" stroke-width="1.7" stroke-linejoin="round"/>
<path d="M1052.7,405.0 L1051.2,405.2 L1019.6,409.7 L991.3,413.6 L987.9,414.0 L956.2,418.1" fill="none" stroke="#000" stroke-width="1.7" stroke-linejoin="round"/>
<path d="M1741.5,15.9 L1748.2,21.8" fill="none" stroke="#000" stroke-width="1.7" stroke-linejoin="round"/>
<path d="M1748.2,160.7 L1723.6,178.6 L1716.5,182.8 L1692.8,196.7 L1684.8,200.6 L1655.9,214.7 L1653.2,215.9 L1621.5,229.1 L1612.6,232.8 L1589.8,241.1 L1562.5,250.9 L1558.1,252.3 L1526.4,262.4 L1505.4,269.0 L1494.8,272.0 L1463.1,280.9 L1440.8,287.0 L1431.4,289.4 L1399.7,297.3 L1368.2,305.1 L1368.0,305.1 L1336.4,312.3 L1304.7,319.3 L1286.8,323.2 L1273.0,326.0 L1241.3,332.3 L1209.6,338.6 L1195.9,341.3 L1178.0,344.5 L1146.3,350.2 L1114.6,355.8 L1094.5,359.3 L1082.9,361.2 L1051.2,366.4 L1041.8,367.9" fill="none" stroke="#000" stroke-width="1.7" stroke-linejoin="round"/>
<path d="M989.9,376.1 L987.9,376.4 L981.2,377.4 L956.2,381.1" fill="none" stroke="#000" stroke-width="1.7" stroke-linejoin="round"/>
<path d="M1538.1,15.9 L1558.1,32.7 L1559.7,34.0 L1575.2,52.1 L1584.7,70.1 L1588.3,88.2 L1585.9,106.3 L1577.6,124.4 L1563.3,142.4 L1558.1,147.1 L1542.9,160.5 L1526.4,171.7 L1516.2,178.6 L1494.8,190.3 L1483.0,196.7 L1463.1,205.8 L1443.2,214.7 L1431.4,219.4 L1399.7,231.6 L1396.5,232.8 L1368.0,242.4 L1342.4,250.9 L1336.4,252.7 L1304.7,262.0 L1280.6,269.0 L1273.0,270.9 L1241.3,279.1 L1210.4,287.0 L1209.6,287.2 L1178.0,294.5 L1146.3,301.7 L1131.1,305.1 L1114.6,308.5 L1082.9,315.0 L1051.2,321.4 L1042.0,323.2 L1019.6,327.3 L1010.6,328.9" fill="none" stroke="#000" stroke-width="1.7" stroke-linejoin="round"/>
<path d="M1322.1,15.9 L1336.4,27.3 L1344.7,34.0 L1360.9,52.1 L1368.0,65.2 L1370.7,70.1 L1374.1,88.2 L1371.3,106.3 L1368.0,112.6 L1362.0,124.4 L1346.2,142.4 L1336.4,150.5 L1323.9,160.5 L1304.7,172.5 L1294.9,178.6 L1273.0,189.6 L1258.8,196.7 L1241.3,204.0 L1215.5,214.7 L1209.6,216.9 L1178.0,228.1 L1164.5,232.8 L1146.3,238.5 L1114.6,248.1 L1105.5,250.9 L1082.9,257.0 L1051.2,265.4 L1037.6,269.0 L1019.6,273.3 L995.7,278.9" fill="none" stroke="#000" stroke-width="1.7" stroke-linejoin="round"/>
<path d="M965.8,285.8 L960.4,287.0 L956.2,287.9" fill="none" stroke="#000" stroke-width="1.7" stroke-linejoin="round"/>
<path d="M1090.9,15.9 L1114.6,33.8 L1114.8,34.0 L1131.7,52.1 L1141.8,70.1 L1145.0,88.2 L1141.4,106.3 L1130.9,124.4 L1114.6,141.2 L1113.4,142.4 L1088.7,160.5 L1082.9,163.8 L1056.7,178.6 L1051.2,181.1 L1019.6,195.5 L1017.0,196.7 L1005.7,200.9" fill="none" stroke="#000" stroke-width="1.7" stroke-linejoin="round"/>
<text x="982.4" y="217.3" font-size="20.5" text-anchor="middle" letter-spacing="0.9" stroke="#000" stroke-width="0.35" transform="rotate(-21 982.4 210.1)">8.1</text>
<text x="979.3" y="291.2" font-size="20.5" text-anchor="middle" letter-spacing="0.9" stroke="#000" stroke-width="0.35" transform="rotate(-13 979.3 284.0)">8</text>
<text x="983.5" y="342.2" font-size="20.5" text-anchor="middle" letter-spacing="0.9" stroke="#000" stroke-width="0.35" transform="rotate(-10 983.5 335.0)">7.9</text>
<text x="1015.5" y="380.5" font-size="20.5" text-anchor="middle" letter-spacing="0.9" stroke="#000" stroke-width="0.35" transform="rotate(-9 1015.5 373.3)">7.8</text>
<text x="1077.6" y="408.8" font-size="20.5" text-anchor="middle" letter-spacing="0.9" stroke="#000" stroke-width="0.35" transform="rotate(-8 1077.6 401.6)">7.7</text>
<text x="1015.5" y="451.3" font-size="20.5" text-anchor="middle" letter-spacing="0.9" stroke="#000" stroke-width="0.35" transform="rotate(-8 1015.5 444.1)">7.6</text>
<text x="1118" y="470.3" font-size="20.5" text-anchor="middle" letter-spacing="0.9" stroke="#000" stroke-width="0.35" transform="rotate(-7 1118.0 463.1)">7.5</text>
<text x="1372.5" y="470.2" font-size="20.5" text-anchor="middle" letter-spacing="0.9" stroke="#000" stroke-width="0.35" transform="rotate(-8 1372.5 463.0)">7.4</text>
<text x="1595.6" y="469.8" font-size="20.5" text-anchor="middle" letter-spacing="0.9" stroke="#000" stroke-width="0.35" transform="rotate(-8 1595.6 462.6)">7.3</text>
<path d="M1336.5,467.4 L1344.5,466.2" fill="none" stroke="#000" stroke-width="1.7"/>
<path d="M1561.5,467.2 L1568.0,466.2" fill="none" stroke="#000" stroke-width="1.7"/>
<line x1="939.8" y1="477" x2="1764.9" y2="477" stroke="#000" stroke-width="2"/>
<line x1="1763.7" y1="6.9" x2="1763.7" y2="478" stroke="#000" stroke-width="1.3"/>
<line x1="1022.6" y1="477" x2="1022.6" y2="499" stroke="#000" stroke-width="1.8"/>
<text x="1021.1" y="555.6" font-size="36" text-anchor="middle" fill="#1c1c1c">0.14</text>
<line x1="1154.6" y1="477" x2="1154.6" y2="499" stroke="#000" stroke-width="1.8"/>
<text x="1153.1" y="555.6" font-size="36" text-anchor="middle" fill="#1c1c1c">0.16</text>
<line x1="1287" y1="477" x2="1287" y2="499" stroke="#000" stroke-width="1.8"/>
<text x="1285.5" y="555.6" font-size="36" text-anchor="middle" fill="#1c1c1c">0.18</text>
<line x1="1419" y1="477" x2="1419" y2="499" stroke="#000" stroke-width="1.8"/>
<text x="1417.5" y="555.6" font-size="36" text-anchor="middle" fill="#1c1c1c">0.20</text>
<line x1="1549.3" y1="477" x2="1549.3" y2="499" stroke="#000" stroke-width="1.8"/>
<text x="1547.8" y="555.6" font-size="36" text-anchor="middle" fill="#1c1c1c">0.22</text>
<line x1="1681" y1="477" x2="1681" y2="499" stroke="#000" stroke-width="1.8"/>
<text x="1679.5" y="555.6" font-size="36" text-anchor="middle" fill="#1c1c1c">0.24</text>
<line x1="918.8" y1="94.3" x2="940.3" y2="94.3" stroke="#000" stroke-width="1.8"/>
<text x="890.4" y="94.3" font-size="37" text-anchor="middle" fill="#1c1c1c" transform="rotate(-90 890.4 94.3)">45</text>
<line x1="918.8" y1="226.2" x2="940.3" y2="226.2" stroke="#000" stroke-width="1.8"/>
<text x="890.4" y="226.2" font-size="37" text-anchor="middle" fill="#1c1c1c" transform="rotate(-90 890.4 226.2)">40</text>
<line x1="918.8" y1="358.4" x2="940.3" y2="358.4" stroke="#000" stroke-width="1.8"/>
<text x="890.4" y="358.4" font-size="37" text-anchor="middle" fill="#1c1c1c" transform="rotate(-90 890.4 358.4)">35</text>
<text x="804" y="243" font-size="36.3" text-anchor="middle" fill="#1c1c1c" transform="rotate(-90 804 243)">Latitude</text>
<text x="1351.5" y="644.1" font-size="36" text-anchor="middle" fill="#1c1c1c">Cost/Price Ratio</text>
<text x="976" y="113.8" font-size="112" fill="#231f20" textLength="73" lengthAdjust="spacingAndGlyphs">B</text>
</g>
<g id="panelC1">
<rect x="162.2" y="757.3" width="574.7" height="574.5" fill="none" stroke="#4d4d4d" stroke-width="1.6"/>
<line x1="161.2" y1="1331.8" x2="161.2" y2="1341.3" stroke="#333" stroke-width="1.8"/>
<text x="161.2" y="1370.3" font-size="26.5" text-anchor="middle" font-weight="bold">0</text>
<line x1="353.8" y1="1331.8" x2="353.8" y2="1341.3" stroke="#333" stroke-width="1.8"/>
<text x="353.8" y="1370.3" font-size="26.5" text-anchor="middle" font-weight="bold">5</text>
<line x1="545.3" y1="1331.8" x2="545.3" y2="1341.3" stroke="#333" stroke-width="1.8"/>
<text x="545.3" y="1370.3" font-size="26.5" text-anchor="middle" font-weight="bold">10</text>
<line x1="737.9" y1="1331.8" x2="737.9" y2="1341.3" stroke="#333" stroke-width="1.8"/>
<text x="737.9" y="1370.3" font-size="26.5" text-anchor="middle" font-weight="bold">15</text>
<line x1="152.7" y1="1331.8" x2="162.2" y2="1331.8" stroke="#333" stroke-width="1.8"/>
<text x="145" y="1341.2" font-size="26.5" text-anchor="end" font-weight="bold">0</text>
<line x1="152.7" y1="1140.2" x2="162.2" y2="1140.2" stroke="#333" stroke-width="1.8"/>
<text x="145" y="1149.7" font-size="26.5" text-anchor="end" font-weight="bold">5</text>
<line x1="152.7" y1="948.7" x2="162.2" y2="948.7" stroke="#333" stroke-width="1.8"/>
<text x="145" y="958.1" font-size="26.5" text-anchor="end" font-weight="bold">10</text>
<line x1="152.7" y1="757.1" x2="162.2" y2="757.1" stroke="#333" stroke-width="1.8"/>
<text x="145" y="766.5" font-size="26.5" text-anchor="end" font-weight="bold">15</text>
<text x="449" y="1424.5" font-size="38.4" text-anchor="middle">AOPD <tspan font-size="43" dy="1.5">(</tspan><tspan dy="-1.5">plants m</tspan><tspan dy="-19" font-size="27">−2</tspan><tspan dy="20.5" font-size="43">)</tspan></text>
<text x="94.3" y="1044" font-size="32.2" text-anchor="middle" transform="rotate(-90 94.3 1044)">EOPD <tspan font-size="36.5" dy="1.2">(</tspan><tspan dy="-1.2">plants m</tspan><tspan dy="-16" font-size="22.5">−2</tspan><tspan dy="17.2" font-size="36.5">)</tspan></text>
<text x="196.5" y="828.8" font-size="73">C1</text>
<line x1="287.5" y1="1213" x2="507" y2="1004.2" stroke="#eef2fd" stroke-width="6"/>
<line x1="326.9" y1="1175.5" x2="579.8" y2="941" stroke="#bed8e8" stroke-width="6"/>
<line x1="449.5" y1="1059.4" x2="710" y2="833.8" stroke="#6caed6" stroke-width="6"/>
<line x1="449.5" y1="1056" x2="583.6" y2="931.5" stroke="#2472b5" stroke-width="6"/>
<line x1="287.5" y1="1215.3" x2="699.3" y2="828.8" stroke="#000" stroke-width="6.5"/>
<g stroke="#000" stroke-width="2.1">
<g fill="#2472b5">
<circle cx="556.4" cy="950.6" r="6.1"/>
</g>
<g fill="#eef2fd">
<circle cx="506.3" cy="1018.5" r="6.1"/>
</g>
<g fill="#6caed6">
<circle cx="572.4" cy="936.2" r="6.1"/>
</g>
<g fill="#2472b5">
<circle cx="525.7" cy="980.9" r="6.1"/>
<circle cx="516.6" cy="989.9" r="6.1"/>
<circle cx="523.8" cy="983.0" r="6.1"/>
</g>
<g fill="#bed8e8">
<circle cx="416.4" cy="1102.3" r="6.1"/>
</g>
<g fill="#2472b5">
<circle cx="545.5" cy="962.0" r="6.1"/>
</g>
<g fill="#eef2fd">
<circle cx="372.3" cy="1144.2" r="6.1"/>
</g>
<g fill="#bed8e8">
<circle cx="441.2" cy="1066.0" r="6.1"/>
<circle cx="434.5" cy="1072.5" r="6.1"/>
<circle cx="432.2" cy="1074.4" r="6.1"/>
</g>
<g fill="#2472b5">
<circle cx="473.1" cy="1032.9" r="6.1"/>
</g>
<g fill="#bed8e8">
<circle cx="359.2" cy="1146.9" r="6.1"/>
<circle cx="357.8" cy="1148.3" r="6.1"/>
</g>
<g fill="#6caed6">
<circle cx="574.2" cy="934.2" r="6.1"/>
</g>
<g fill="#eef2fd">
<circle cx="372.9" cy="1141.7" r="6.1"/>
</g>
<g fill="#bed8e8">
<circle cx="497.7" cy="1029.9" r="6.1"/>
<circle cx="500.1" cy="1021.1" r="6.1"/>
<circle cx="404.1" cy="1113.8" r="6.1"/>
<circle cx="357.9" cy="1148.3" r="6.1"/>
<circle cx="359.7" cy="1146.7" r="6.1"/>
</g>
<g fill="#6caed6">
<circle cx="577.8" cy="931.3" r="6.1"/>
</g>
<g fill="#2472b5">
<circle cx="514.2" cy="1011.8" r="6.1"/>
</g>
<g fill="#eef2fd">
<circle cx="407.9" cy="1098.0" r="6.1"/>
<circle cx="386.9" cy="1129.2" r="6.1"/>
</g>
<g fill="#6caed6">
<circle cx="510.8" cy="1009.5" r="6.1"/>
</g>
<g fill="#2472b5">
<circle cx="516.1" cy="990.8" r="6.1"/>
</g>
<g fill="#bed8e8">
<circle cx="392.6" cy="1113.4" r="6.1"/>
<circle cx="427.1" cy="1093.4" r="6.1"/>
</g>
<g fill="#eef2fd">
<circle cx="371.1" cy="1145.9" r="6.1"/>
</g>
<g fill="#2472b5">
<circle cx="497.3" cy="1009.5" r="6.1"/>
<circle cx="497.3" cy="1025.2" r="6.1"/>
</g>
<g fill="#eef2fd">
<circle cx="409.7" cy="1110.7" r="6.1"/>
<circle cx="380.9" cy="1125.1" r="6.1"/>
<circle cx="378.2" cy="1127.7" r="6.1"/>
<circle cx="376.6" cy="1129.3" r="6.1"/>
</g>
<g fill="#2472b5">
<circle cx="511.2" cy="995.1" r="6.1"/>
</g>
<g fill="#eef2fd">
<circle cx="390.5" cy="1116.6" r="6.1"/>
<circle cx="392.8" cy="1114.7" r="6.1"/>
<circle cx="394.7" cy="1113.0" r="6.1"/>
<circle cx="336.1" cy="1175.3" r="6.1"/>
<circle cx="443.1" cy="1078.9" r="6.1"/>
</g>
<g fill="#bed8e8">
<circle cx="424.0" cy="1082.9" r="6.1"/>
<circle cx="425.6" cy="1081.5" r="6.1"/>
<circle cx="430.2" cy="1076.9" r="6.1"/>
<circle cx="431.0" cy="1076.2" r="6.1"/>
<circle cx="396.5" cy="1110.3" r="6.1"/>
<circle cx="396.5" cy="1112.7" r="6.1"/>
</g>
<g fill="#6caed6">
<circle cx="565.7" cy="941.6" r="6.1"/>
<circle cx="568.2" cy="939.7" r="6.1"/>
</g>
<g fill="#eef2fd">
<circle cx="327.5" cy="1179.7" r="6.1"/>
</g>
<g fill="#2472b5">
<circle cx="522.1" cy="984.9" r="6.1"/>
<circle cx="568.9" cy="939.2" r="6.1"/>
<circle cx="569.7" cy="939.1" r="6.1"/>
<circle cx="572.1" cy="936.5" r="6.1"/>
</g>
<g fill="#6caed6">
<circle cx="397.8" cy="1108.3" r="6.1"/>
</g>
<g fill="#bed8e8">
<circle cx="475.1" cy="1032.9" r="6.1"/>
<circle cx="475.1" cy="1048.7" r="6.1"/>
</g>
<g fill="#2472b5">
<circle cx="513.8" cy="992.8" r="6.1"/>
<circle cx="509.9" cy="997.7" r="6.1"/>
<circle cx="512.4" cy="994.9" r="6.1"/>
</g>
<g fill="#6caed6">
<circle cx="457.9" cy="1047.8" r="6.1"/>
<circle cx="460.1" cy="1045.2" r="6.1"/>
</g>
<g fill="#bed8e8">
<circle cx="505.1" cy="1015.2" r="6.1"/>
</g>
<g fill="#2472b5">
<circle cx="571.5" cy="954.9" r="6.1"/>
<circle cx="572.4" cy="936.8" r="6.1"/>
<circle cx="448.9" cy="1058.4" r="6.1"/>
</g>
<g fill="#bed8e8">
<circle cx="433.1" cy="1074.0" r="6.1"/>
<circle cx="400.9" cy="1117.1" r="6.1"/>
</g>
<g fill="#eef2fd">
<circle cx="327.9" cy="1180.1" r="6.1"/>
<circle cx="327.9" cy="1183.4" r="6.1"/>
<circle cx="327.9" cy="1185.6" r="6.1"/>
</g>
<g fill="#bed8e8">
<circle cx="478.8" cy="1028.6" r="6.1"/>
<circle cx="477.9" cy="1030.1" r="6.1"/>
<circle cx="475.3" cy="1033.0" r="6.1"/>
</g>
<g fill="#2472b5">
<circle cx="532.7" cy="974.3" r="6.1"/>
</g>
<g fill="#6caed6">
<circle cx="528.8" cy="996.6" r="6.1"/>
</g>
<g fill="#2472b5">
<circle cx="521.1" cy="985.5" r="6.1"/>
</g>
<g fill="#bed8e8">
<circle cx="524.3" cy="1001.9" r="6.1"/>
<circle cx="530.1" cy="992.2" r="6.1"/>
</g>
<g fill="#eef2fd">
<circle cx="380.4" cy="1126.8" r="6.1"/>
<circle cx="383.7" cy="1123.7" r="6.1"/>
</g>
<g fill="#bed8e8">
<circle cx="360.8" cy="1145.8" r="6.1"/>
<circle cx="362.8" cy="1143.4" r="6.1"/>
<circle cx="364.5" cy="1141.4" r="6.1"/>
<circle cx="371.7" cy="1134.3" r="6.1"/>
<circle cx="373.2" cy="1132.4" r="6.1"/>
<circle cx="374.1" cy="1131.5" r="6.1"/>
</g>
<g fill="#2472b5">
<circle cx="492.2" cy="1014.6" r="6.1"/>
<circle cx="491.0" cy="1015.5" r="6.1"/>
</g>
<g fill="#eef2fd">
<circle cx="486.8" cy="1037.3" r="6.1"/>
<circle cx="370.7" cy="1144.3" r="6.1"/>
</g>
<g fill="#2472b5">
<circle cx="482.1" cy="1024.1" r="6.1"/>
<circle cx="452.0" cy="1054.9" r="6.1"/>
<circle cx="555.3" cy="951.5" r="6.1"/>
</g>
<g fill="#eef2fd">
<circle cx="435.7" cy="1080.5" r="6.1"/>
</g>
<g fill="#6caed6">
<circle cx="555.2" cy="953.2" r="6.1"/>
</g>
<g fill="#bed8e8">
<circle cx="476.2" cy="1032.9" r="6.1"/>
</g>
<g fill="#eef2fd">
<circle cx="391.7" cy="1116.9" r="6.1"/>
<circle cx="389.5" cy="1118.5" r="6.1"/>
</g>
<g fill="#6caed6">
<circle cx="505.5" cy="1011.6" r="6.1"/>
</g>
<g fill="#2472b5">
<circle cx="504.3" cy="1002.1" r="6.1"/>
<circle cx="522.6" cy="984.7" r="6.1"/>
<circle cx="507.7" cy="999.5" r="6.1"/>
<circle cx="506.3" cy="1000.9" r="6.1"/>
<circle cx="503.8" cy="1003.0" r="6.1"/>
<circle cx="501.7" cy="1005.4" r="6.1"/>
<circle cx="499.6" cy="1007.7" r="6.1"/>
</g>
<g fill="#eef2fd">
<circle cx="385.6" cy="1132.0" r="6.1"/>
</g>
<g fill="#2472b5">
<circle cx="569.6" cy="939.5" r="6.1"/>
<circle cx="570.7" cy="938.9" r="6.1"/>
<circle cx="572.6" cy="937.5" r="6.1"/>
<circle cx="574.3" cy="936.0" r="6.1"/>
</g>
<g fill="#bed8e8">
<circle cx="524.9" cy="983.2" r="6.1"/>
</g>
<g fill="#2472b5">
<circle cx="461.3" cy="1045.8" r="6.1"/>
<circle cx="459.0" cy="1047.9" r="6.1"/>
<circle cx="457.0" cy="1049.1" r="6.1"/>
<circle cx="454.5" cy="1051.8" r="6.1"/>
<circle cx="565.0" cy="943.0" r="6.1"/>
</g>
<g fill="#6caed6">
<circle cx="564.9" cy="943.3" r="6.1"/>
</g>
<g fill="#2472b5">
<circle cx="546.8" cy="960.5" r="6.1"/>
<circle cx="548.2" cy="959.5" r="6.1"/>
</g>
<g fill="#6caed6">
<circle cx="544.3" cy="963.7" r="6.1"/>
</g>
<g fill="#bed8e8">
<circle cx="333.5" cy="1176.0" r="6.1"/>
</g>
<g fill="#6caed6">
<circle cx="526.0" cy="982.0" r="6.1"/>
<circle cx="526.0" cy="993.7" r="6.1"/>
</g>
<g fill="#eef2fd">
<circle cx="381.7" cy="1124.9" r="6.1"/>
<circle cx="381.7" cy="1128.6" r="6.1"/>
<circle cx="381.7" cy="1132.3" r="6.1"/>
</g>
<g fill="#6caed6">
<circle cx="484.4" cy="1023.2" r="6.1"/>
<circle cx="523.7" cy="995.5" r="6.1"/>
</g>
<g fill="#eef2fd">
<circle cx="441.4" cy="1078.9" r="6.1"/>
<circle cx="407.7" cy="1111.1" r="6.1"/>
</g>
<g fill="#bed8e8">
<circle cx="434.8" cy="1072.5" r="6.1"/>
<circle cx="485.6" cy="1033.9" r="6.1"/>
<circle cx="510.2" cy="1009.3" r="6.1"/>
<circle cx="452.0" cy="1069.3" r="6.1"/>
</g>
<g fill="#2472b5">
<circle cx="530.6" cy="976.7" r="6.1"/>
<circle cx="528.9" cy="977.5" r="6.1"/>
<circle cx="527.7" cy="978.2" r="6.1"/>
</g>
<g fill="#bed8e8">
<circle cx="443.6" cy="1074.0" r="6.1"/>
</g>
<g fill="#eef2fd">
<circle cx="352.1" cy="1161.7" r="6.1"/>
</g>
<g fill="#2472b5">
<circle cx="575.4" cy="933.7" r="6.1"/>
<circle cx="575.4" cy="937.5" r="6.1"/>
<circle cx="534.1" cy="973.3" r="6.1"/>
</g>
<g fill="#eef2fd">
<circle cx="331.8" cy="1180.8" r="6.1"/>
<circle cx="331.8" cy="1182.7" r="6.1"/>
<circle cx="331.8" cy="1184.5" r="6.1"/>
<circle cx="356.8" cy="1158.4" r="6.1"/>
</g>
<g fill="#2472b5">
<circle cx="519.2" cy="987.9" r="6.1"/>
<circle cx="520.3" cy="988.1" r="6.1"/>
<circle cx="517.7" cy="990.3" r="6.1"/>
<circle cx="512.4" cy="995.2" r="6.1"/>
<circle cx="511.5" cy="996.2" r="6.1"/>
</g>
<g fill="#eef2fd">
<circle cx="421.8" cy="1085.4" r="6.1"/>
</g>
<g fill="#6caed6">
<circle cx="578.4" cy="930.8" r="6.1"/>
<circle cx="578.4" cy="933.2" r="6.1"/>
<circle cx="578.4" cy="935.6" r="6.1"/>
</g>
<g fill="#2472b5">
<circle cx="564.0" cy="943.5" r="6.1"/>
</g>
<g fill="#eef2fd">
<circle cx="413.2" cy="1103.2" r="6.1"/>
<circle cx="463.6" cy="1056.8" r="6.1"/>
</g>
<g fill="#bed8e8">
<circle cx="453.3" cy="1054.6" r="6.1"/>
<circle cx="451.5" cy="1056.8" r="6.1"/>
<circle cx="449.3" cy="1058.4" r="6.1"/>
<circle cx="511.2" cy="996.8" r="6.1"/>
<circle cx="511.2" cy="1008.5" r="6.1"/>
</g>
<g fill="#eef2fd">
<circle cx="408.5" cy="1099.2" r="6.1"/>
<circle cx="409.6" cy="1097.5" r="6.1"/>
<circle cx="411.6" cy="1095.3" r="6.1"/>
<circle cx="412.3" cy="1093.9" r="6.1"/>
<circle cx="413.7" cy="1092.2" r="6.1"/>
<circle cx="416.3" cy="1089.9" r="6.1"/>
</g>
<g fill="#2472b5">
<circle cx="491.1" cy="1015.6" r="6.1"/>
<circle cx="472.1" cy="1035.2" r="6.1"/>
<circle cx="564.6" cy="945.3" r="6.1"/>
<circle cx="563.0" cy="946.6" r="6.1"/>
<circle cx="485.2" cy="1021.6" r="6.1"/>
<circle cx="529.0" cy="979.8" r="6.1"/>
</g>
<g fill="#bed8e8">
<circle cx="428.4" cy="1079.0" r="6.1"/>
<circle cx="427.6" cy="1079.5" r="6.1"/>
</g>
<g fill="#2472b5">
<circle cx="485.5" cy="1024.9" r="6.1"/>
<circle cx="483.6" cy="1026.9" r="6.1"/>
<circle cx="510.8" cy="997.2" r="6.1"/>
<circle cx="510.8" cy="998.8" r="6.1"/>
</g>
<g fill="#eef2fd">
<circle cx="378.3" cy="1129.3" r="6.1"/>
<circle cx="378.3" cy="1133.1" r="6.1"/>
<circle cx="378.3" cy="1136.5" r="6.1"/>
</g>
<g fill="#6caed6">
<circle cx="494.9" cy="1012.4" r="6.1"/>
<circle cx="555.7" cy="952.7" r="6.1"/>
</g>
<g fill="#bed8e8">
<circle cx="364.2" cy="1152.7" r="6.1"/>
</g>
<g fill="#6caed6">
<circle cx="529.7" cy="978.2" r="6.1"/>
<circle cx="529.7" cy="980.5" r="6.1"/>
<circle cx="529.7" cy="982.4" r="6.1"/>
</g>
<g fill="#bed8e8">
<circle cx="477.8" cy="1031.1" r="6.1"/>
<circle cx="476.6" cy="1033.4" r="6.1"/>
</g>
<g fill="#2472b5">
<circle cx="488.4" cy="1017.7" r="6.1"/>
<circle cx="488.4" cy="1019.2" r="6.1"/>
<circle cx="488.4" cy="1020.8" r="6.1"/>
<circle cx="470.6" cy="1036.3" r="6.1"/>
<circle cx="469.7" cy="1037.0" r="6.1"/>
<circle cx="468.4" cy="1038.0" r="6.1"/>
<circle cx="464.9" cy="1042.0" r="6.1"/>
<circle cx="462.6" cy="1044.3" r="6.1"/>
<circle cx="460.4" cy="1047.0" r="6.1"/>
<circle cx="457.9" cy="1049.2" r="6.1"/>
<circle cx="455.7" cy="1051.2" r="6.1"/>
<circle cx="535.5" cy="971.9" r="6.1"/>
</g>
<g fill="#6caed6">
<circle cx="533.8" cy="974.5" r="6.1"/>
</g>
<g fill="#eef2fd">
<circle cx="406.9" cy="1103.1" r="6.1"/>
<circle cx="406.9" cy="1106.0" r="6.1"/>
<circle cx="406.9" cy="1109.7" r="6.1"/>
</g>
<g fill="#2472b5">
<circle cx="467.0" cy="1039.0" r="6.1"/>
<circle cx="467.0" cy="1040.2" r="6.1"/>
<circle cx="467.0" cy="1041.6" r="6.1"/>
</g>
<g fill="#bed8e8">
<circle cx="396.9" cy="1111.7" r="6.1"/>
<circle cx="396.9" cy="1112.8" r="6.1"/>
<circle cx="396.9" cy="1114.7" r="6.1"/>
</g>
<g fill="#eef2fd">
<circle cx="355.8" cy="1150.7" r="6.1"/>
<circle cx="357.9" cy="1149.0" r="6.1"/>
<circle cx="358.9" cy="1147.9" r="6.1"/>
</g>
<g fill="#2472b5">
<circle cx="499.5" cy="1008.0" r="6.1"/>
<circle cx="497.2" cy="1010.5" r="6.1"/>
</g>
<g fill="#6caed6">
<circle cx="467.8" cy="1039.4" r="6.1"/>
</g>
<g fill="#2472b5">
<circle cx="480.1" cy="1028.4" r="6.1"/>
</g>
<g fill="#6caed6">
<circle cx="504.8" cy="1002.5" r="6.1"/>
<circle cx="504.8" cy="1011.1" r="6.1"/>
<circle cx="471.7" cy="1038.2" r="6.1"/>
<circle cx="471.7" cy="1051.3" r="6.1"/>
</g>
<g fill="#2472b5">
<circle cx="583.0" cy="925.0" r="6.1"/>
<circle cx="583.0" cy="930.0" r="6.1"/>
<circle cx="583.0" cy="936.6" r="6.1"/>
</g>
<g fill="#eef2fd">
<circle cx="438.4" cy="1069.1" r="6.1"/>
</g>
<g fill="#2472b5">
<circle cx="558.5" cy="948.7" r="6.1"/>
<circle cx="479.6" cy="1029.1" r="6.1"/>
</g>
<g fill="#bed8e8">
<circle cx="446.7" cy="1060.3" r="6.1"/>
<circle cx="446.7" cy="1071.9" r="6.1"/>
<circle cx="493.6" cy="1015.7" r="6.1"/>
<circle cx="493.6" cy="1022.8" r="6.1"/>
</g>
<g fill="#6caed6">
<circle cx="502.3" cy="1005.5" r="6.1"/>
<circle cx="502.3" cy="1009.1" r="6.1"/>
<circle cx="502.3" cy="1012.4" r="6.1"/>
</g>
<g fill="#2472b5">
<circle cx="560.5" cy="946.3" r="6.1"/>
<circle cx="560.5" cy="965.4" r="6.1"/>
</g>
<g fill="#bed8e8">
<circle cx="363.1" cy="1143.1" r="6.1"/>
<circle cx="363.1" cy="1149.9" r="6.1"/>
</g>
<g fill="#eef2fd">
<circle cx="432.8" cy="1075.2" r="6.1"/>
<circle cx="432.8" cy="1087.2" r="6.1"/>
</g>
<g fill="#6caed6">
<circle cx="425.0" cy="1082.3" r="6.1"/>
<circle cx="423.3" cy="1083.9" r="6.1"/>
<circle cx="421.2" cy="1086.9" r="6.1"/>
<circle cx="419.4" cy="1088.5" r="6.1"/>
<circle cx="417.7" cy="1090.2" r="6.1"/>
<circle cx="415.7" cy="1091.2" r="6.1"/>
</g>
<g fill="#bed8e8">
<circle cx="476.4" cy="1034.3" r="6.1"/>
<circle cx="474.6" cy="1036.1" r="6.1"/>
<circle cx="472.8" cy="1038.3" r="6.1"/>
<circle cx="471.5" cy="1039.2" r="6.1"/>
<circle cx="469.2" cy="1041.7" r="6.1"/>
<circle cx="467.1" cy="1043.7" r="6.1"/>
<circle cx="465.5" cy="1046.0" r="6.1"/>
</g>
<g fill="#6caed6">
<circle cx="504.0" cy="1003.9" r="6.1"/>
<circle cx="504.0" cy="1005.4" r="6.1"/>
<circle cx="504.0" cy="1007.2" r="6.1"/>
</g>
<g fill="#2472b5">
<circle cx="544.0" cy="964.9" r="6.1"/>
<circle cx="545.1" cy="964.0" r="6.1"/>
</g>
<g fill="#6caed6">
<circle cx="480.0" cy="1029.1" r="6.1"/>
<circle cx="480.0" cy="1033.7" r="6.1"/>
<circle cx="480.0" cy="1038.2" r="6.1"/>
</g>
<g fill="#eef2fd">
<circle cx="403.0" cy="1104.2" r="6.1"/>
<circle cx="403.0" cy="1106.1" r="6.1"/>
<circle cx="403.0" cy="1107.9" r="6.1"/>
<circle cx="432.1" cy="1076.9" r="6.1"/>
<circle cx="432.1" cy="1082.1" r="6.1"/>
<circle cx="432.1" cy="1085.8" r="6.1"/>
<circle cx="375.6" cy="1132.2" r="6.1"/>
<circle cx="377.7" cy="1130.2" r="6.1"/>
<circle cx="378.5" cy="1130.2" r="6.1"/>
</g>
<g fill="#2472b5">
<circle cx="518.6" cy="999.6" r="6.1"/>
</g>
<g fill="#bed8e8">
<circle cx="455.7" cy="1051.7" r="6.1"/>
<circle cx="455.7" cy="1059.5" r="6.1"/>
</g>
<g fill="#eef2fd">
<circle cx="356.3" cy="1151.3" r="6.1"/>
<circle cx="358.0" cy="1149.1" r="6.1"/>
<circle cx="359.1" cy="1148.6" r="6.1"/>
<circle cx="360.4" cy="1147.0" r="6.1"/>
<circle cx="362.4" cy="1144.4" r="6.1"/>
<circle cx="365.0" cy="1140.8" r="6.1"/>
<circle cx="367.5" cy="1137.7" r="6.1"/>
</g>
<g fill="#bed8e8">
<circle cx="437.4" cy="1070.5" r="6.1"/>
<circle cx="439.4" cy="1067.9" r="6.1"/>
<circle cx="441.9" cy="1065.2" r="6.1"/>
<circle cx="443.3" cy="1064.3" r="6.1"/>
<circle cx="444.6" cy="1063.3" r="6.1"/>
<circle cx="446.6" cy="1061.7" r="6.1"/>
<circle cx="448.9" cy="1059.3" r="6.1"/>
<circle cx="451.5" cy="1057.1" r="6.1"/>
</g>
<g fill="#2472b5">
<circle cx="562.3" cy="948.8" r="6.1"/>
</g>
<g fill="#eef2fd">
<circle cx="340.6" cy="1165.9" r="6.1"/>
<circle cx="341.4" cy="1164.0" r="6.1"/>
<circle cx="342.9" cy="1161.7" r="6.1"/>
<circle cx="343.8" cy="1161.2" r="6.1"/>
<circle cx="344.6" cy="1160.1" r="6.1"/>
<circle cx="346.5" cy="1158.0" r="6.1"/>
</g>
<g fill="#2472b5">
<circle cx="546.8" cy="962.7" r="6.1"/>
<circle cx="546.8" cy="978.4" r="6.1"/>
</g>
<g fill="#eef2fd">
<circle cx="386.8" cy="1120.3" r="6.1"/>
<circle cx="386.8" cy="1122.0" r="6.1"/>
<circle cx="386.8" cy="1123.9" r="6.1"/>
</g>
<g fill="#6caed6">
<circle cx="455.1" cy="1052.7" r="6.1"/>
<circle cx="455.1" cy="1056.4" r="6.1"/>
<circle cx="455.1" cy="1060.0" r="6.1"/>
<circle cx="516.0" cy="991.4" r="6.1"/>
<circle cx="516.0" cy="1008.8" r="6.1"/>
</g>
<g fill="#2472b5">
<circle cx="538.8" cy="969.1" r="6.1"/>
<circle cx="538.8" cy="974.4" r="6.1"/>
<circle cx="538.8" cy="982.4" r="6.1"/>
<circle cx="554.7" cy="954.1" r="6.1"/>
<circle cx="494.2" cy="1014.3" r="6.1"/>
<circle cx="494.2" cy="1018.6" r="6.1"/>
<circle cx="494.2" cy="1022.8" r="6.1"/>
</g>
<g fill="#bed8e8">
<circle cx="519.3" cy="989.3" r="6.1"/>
<circle cx="519.3" cy="991.5" r="6.1"/>
<circle cx="519.3" cy="993.6" r="6.1"/>
</g>
<g fill="#eef2fd">
<circle cx="287.2" cy="1211.2" r="6.1"/>
<circle cx="287.2" cy="1215.7" r="6.1"/>
<circle cx="328.2" cy="1168.7" r="6.1"/>
</g>
<g fill="#bed8e8">
<circle cx="328.2" cy="1173.1" r="6.1"/>
</g>
<g fill="#eef2fd">
<circle cx="328.2" cy="1188.1" r="6.1"/>
<circle cx="349.1" cy="1153.7" r="6.1"/>
<circle cx="347.6" cy="1164.2" r="6.1"/>
<circle cx="352.1" cy="1159.7" r="6.1"/>
<circle cx="351.3" cy="1170.1" r="6.1"/>
<circle cx="345.4" cy="1176.1" r="6.1"/>
<circle cx="377.5" cy="1132.8" r="6.1"/>
<circle cx="373.0" cy="1134.3" r="6.1"/>
<circle cx="365.5" cy="1144.8" r="6.1"/>
<circle cx="370.0" cy="1144.8" r="6.1"/>
<circle cx="374.5" cy="1138.8" r="6.1"/>
</g>
<g fill="#bed8e8">
<circle cx="399.9" cy="1101.5" r="6.1"/>
</g>
<g fill="#eef2fd">
<circle cx="393.9" cy="1119.4" r="6.1"/>
<circle cx="389.4" cy="1126.1" r="6.1"/>
</g>
<g fill="#bed8e8">
<circle cx="400.6" cy="1108.2" r="6.1"/>
</g>
<g fill="#eef2fd">
<circle cx="425.2" cy="1116.4" r="6.1"/>
<circle cx="425.2" cy="1126.9" r="6.1"/>
<circle cx="425.2" cy="1098.5" r="6.1"/>
</g>
<g fill="#bed8e8">
<circle cx="415.5" cy="1098.5" r="6.1"/>
<circle cx="425.2" cy="1091.0" r="6.1"/>
<circle cx="452.1" cy="1065.7" r="6.1"/>
</g>
<g fill="#eef2fd">
<circle cx="461.0" cy="1081.3" r="6.1"/>
<circle cx="450.6" cy="1085.1" r="6.1"/>
<circle cx="458.8" cy="1092.5" r="6.1"/>
<circle cx="454.3" cy="1074.6" r="6.1"/>
</g>
<g fill="#bed8e8">
<circle cx="438.7" cy="1077.6" r="6.1"/>
</g>
<g fill="#eef2fd">
<circle cx="475.2" cy="1060.4" r="6.1"/>
<circle cx="476.0" cy="1078.4" r="6.1"/>
<circle cx="476.0" cy="1091.8" r="6.1"/>
</g>
<g fill="#bed8e8">
<circle cx="475.2" cy="1045.5" r="6.1"/>
<circle cx="485.7" cy="1042.5" r="6.1"/>
</g>
<g fill="#eef2fd">
<circle cx="495.4" cy="1045.5" r="6.1"/>
</g>
<g fill="#6caed6">
<circle cx="461.0" cy="1053.0" r="6.1"/>
<circle cx="489.4" cy="1029.9" r="6.1"/>
<circle cx="498.4" cy="1019.4" r="6.1"/>
</g>
<g fill="#eef2fd">
<circle cx="454.2" cy="1073.9" r="6.1"/>
<circle cx="475.8" cy="1077.6" r="6.1"/>
<circle cx="475.1" cy="1061.2" r="6.1"/>
<circle cx="495.2" cy="1045.5" r="6.1"/>
</g>
<g fill="#bed8e8">
<circle cx="475.1" cy="1045.5" r="6.1"/>
<circle cx="485.5" cy="1042.5" r="6.1"/>
<circle cx="501.2" cy="1032.8" r="6.1"/>
</g>
<g fill="#6caed6">
<circle cx="460.9" cy="1053.7" r="6.1"/>
<circle cx="489.3" cy="1030.6" r="6.1"/>
<circle cx="499.7" cy="1020.1" r="6.1"/>
</g>
<g fill="#bed8e8">
<circle cx="519.1" cy="1011.2" r="6.1"/>
<circle cx="522.8" cy="1005.2" r="6.1"/>
<circle cx="542.2" cy="1003.0" r="6.1"/>
<circle cx="541.5" cy="993.3" r="6.1"/>
</g>
<g fill="#2472b5">
<circle cx="510.1" cy="1000.7" r="6.1"/>
<circle cx="517.6" cy="993.3" r="6.1"/>
<circle cx="523.6" cy="984.3" r="6.1"/>
<circle cx="529.6" cy="990.3" r="6.1"/>
<circle cx="532.5" cy="976.9" r="6.1"/>
<circle cx="539.3" cy="967.9" r="6.1"/>
<circle cx="540.0" cy="983.6" r="6.1"/>
<circle cx="549.7" cy="957.5" r="6.1"/>
<circle cx="550.4" cy="966.4" r="6.1"/>
<circle cx="550.4" cy="973.9" r="6.1"/>
</g>
<g fill="#eef2fd">
<circle cx="559.4" cy="954.5" r="6.1"/>
</g>
<g fill="#bed8e8">
<circle cx="560.1" cy="976.1" r="6.1"/>
</g>
<g fill="#2472b5">
<circle cx="560.1" cy="948.5" r="6.1"/>
<circle cx="560.1" cy="959.7" r="6.1"/>
<circle cx="560.1" cy="965.7" r="6.1"/>
</g>
<g fill="#6caed6">
<circle cx="572.1" cy="941.0" r="6.1"/>
<circle cx="572.1" cy="951.5" r="6.1"/>
<circle cx="572.8" cy="961.2" r="6.1"/>
</g>
<g fill="#2472b5">
<circle cx="581.8" cy="931.3" r="6.1"/>
<circle cx="581.8" cy="941.0" r="6.1"/>
<circle cx="581.8" cy="949.3" r="6.1"/>
</g>
<g fill="#6caed6">
<circle cx="640.0" cy="882.1" r="6.1"/>
<circle cx="640.0" cy="898.5" r="6.1"/>
<circle cx="640.0" cy="908.2" r="6.1"/>
<circle cx="702.1" cy="825.4" r="6.1"/>
<circle cx="712.3" cy="819.7" r="6.1"/>
<circle cx="702.1" cy="846.3" r="6.1"/>
<circle cx="712.3" cy="842.4" r="6.1"/>
<circle cx="702.1" cy="857.7" r="6.1"/>
<circle cx="712.3" cy="856.1" r="6.1"/>
</g>
</g>
<line x1="172.88" y1="1321.12" x2="726.58" y2="767.42" stroke="#000" stroke-width="3.3" stroke-dasharray="4.4 12.903"/>
<g stroke="#000" stroke-width="2.1">
<circle cx="269.0" cy="1516.9" r="6.3" fill="#eef2fd"/>
<circle cx="381.9" cy="1516.9" r="6.3" fill="#bed8e8"/>
<circle cx="495.2" cy="1516.9" r="6.3" fill="#6caed6"/>
<circle cx="608.1" cy="1516.9" r="6.3" fill="#2472b5"/>
</g>
<text x="313.5" y="1530.3" font-size="38">1</text>
<text x="427.5" y="1530.3" font-size="38">2</text>
<text x="541.5" y="1530.3" font-size="38">3</text>
<text x="654" y="1530.3" font-size="38">4</text>
</g>
<g id="panelC2">
<rect x="1074.5" y="753.9" width="579.4" height="578.9" fill="none" stroke="#4d4d4d" stroke-width="1.6"/>
<line x1="1073.5" y1="1332.8" x2="1073.5" y2="1342.3" stroke="#333" stroke-width="1.8"/>
<text x="1073.5" y="1371.9" font-size="26.5" text-anchor="middle" font-weight="bold">4</text>
<line x1="1219.3" y1="1332.8" x2="1219.3" y2="1342.3" stroke="#333" stroke-width="1.8"/>
<text x="1219.3" y="1371.9" font-size="26.5" text-anchor="middle" font-weight="bold">6</text>
<line x1="1364.1" y1="1332.8" x2="1364.1" y2="1342.3" stroke="#333" stroke-width="1.8"/>
<text x="1364.1" y="1371.9" font-size="26.5" text-anchor="middle" font-weight="bold">8</text>
<line x1="1508.9" y1="1332.8" x2="1508.9" y2="1342.3" stroke="#333" stroke-width="1.8"/>
<text x="1508.9" y="1371.9" font-size="26.5" text-anchor="middle" font-weight="bold">10</text>
<line x1="1654.7" y1="1332.8" x2="1654.7" y2="1342.3" stroke="#333" stroke-width="1.8"/>
<text x="1654.7" y="1371.9" font-size="26.5" text-anchor="middle" font-weight="bold">12</text>
<line x1="1065" y1="1332.8" x2="1074.5" y2="1332.8" stroke="#333" stroke-width="1.8"/>
<text x="1057.5" y="1342.2" font-size="26.5" text-anchor="end" font-weight="bold">4</text>
<line x1="1065" y1="1188" x2="1074.5" y2="1188" stroke="#333" stroke-width="1.8"/>
<text x="1057.5" y="1197.4" font-size="26.5" text-anchor="end" font-weight="bold">6</text>
<line x1="1065" y1="1043.2" x2="1074.5" y2="1043.2" stroke="#333" stroke-width="1.8"/>
<text x="1057.5" y="1052.6" font-size="26.5" text-anchor="end" font-weight="bold">8</text>
<line x1="1065" y1="898.4" x2="1074.5" y2="898.4" stroke="#333" stroke-width="1.8"/>
<text x="1057.5" y="907.8" font-size="26.5" text-anchor="end" font-weight="bold">10</text>
<line x1="1065" y1="753.6" x2="1074.5" y2="753.6" stroke="#333" stroke-width="1.8"/>
<text x="1057.5" y="763" font-size="26.5" text-anchor="end" font-weight="bold">12</text>
<text x="1364.5" y="1425.5" font-size="38.4" text-anchor="middle">AOPD <tspan font-size="43" dy="1.5">(</tspan><tspan dy="-1.5">plants m</tspan><tspan dy="-19" font-size="27">−2</tspan><tspan dy="20.5" font-size="43">)</tspan></text>
<text x="1007" y="1043" font-size="32.2" text-anchor="middle" transform="rotate(-90 1007 1043)">EOPD <tspan font-size="36.5" dy="1.2">(</tspan><tspan dy="-1.2">plants m</tspan><tspan dy="-16" font-size="22.5">−2</tspan><tspan dy="17.2" font-size="36.5">)</tspan></text>
<text x="1109" y="826.5" font-size="73">C2</text>
<line x1="1140.5" y1="1290.5" x2="1415" y2="1051.4" stroke="#c01a2b" stroke-width="6"/>
<line x1="1214" y1="1214" x2="1562" y2="917.4" stroke="#ef4122" stroke-width="6"/>
<line x1="1230" y1="1190.2" x2="1576" y2="897" stroke="#f9913e" stroke-width="6"/>
<line x1="1139.4" y1="1283.9" x2="1580.4" y2="881.9" stroke="#000" stroke-width="6.5"/>
<g stroke="#000" stroke-width="2.1">
<g fill="#c01a2b">
<circle cx="1365.2" cy="1113.2" r="6.1"/>
<circle cx="1360.1" cy="1112.6" r="6.1"/>
<circle cx="1383.7" cy="1096.5" r="6.1"/>
<circle cx="1356.4" cy="1116.9" r="6.1"/>
<circle cx="1325.8" cy="1149.2" r="6.1"/>
<circle cx="1350.1" cy="1123.0" r="6.1"/>
<circle cx="1324.3" cy="1129.5" r="6.1"/>
<circle cx="1324.3" cy="1133.3" r="6.1"/>
<circle cx="1324.3" cy="1137.5" r="6.1"/>
<circle cx="1369.5" cy="1107.9" r="6.1"/>
<circle cx="1330.6" cy="1146.9" r="6.1"/>
<circle cx="1398.1" cy="1082.0" r="6.1"/>
</g>
<g fill="#ef4122">
<circle cx="1438.7" cy="1047.3" r="6.1"/>
</g>
<g fill="#fdca5d">
<circle cx="1497.0" cy="938.8" r="6.1"/>
</g>
<g fill="#fcf8b2">
<circle cx="1325.5" cy="1101.1" r="6.1"/>
<circle cx="1469.7" cy="964.3" r="6.1"/>
</g>
<g fill="#ef4122">
<circle cx="1497.7" cy="994.2" r="6.1"/>
</g>
<g fill="#fcf8b2">
<circle cx="1362.0" cy="1066.2" r="6.1"/>
</g>
<g fill="#fdca5d">
<circle cx="1379.7" cy="1049.2" r="6.1"/>
</g>
<g fill="#ef4122">
<circle cx="1390.7" cy="1090.0" r="6.1"/>
</g>
<g fill="#fcf8b2">
<circle cx="1480.8" cy="953.7" r="6.1"/>
</g>
<g fill="#ef4122">
<circle cx="1444.3" cy="1035.4" r="6.1"/>
</g>
<g fill="#f9913e">
<circle cx="1493.8" cy="988.0" r="6.1"/>
</g>
<g fill="#fdca5d">
<circle cx="1489.6" cy="945.1" r="6.1"/>
</g>
<g fill="#ef4122">
<circle cx="1471.5" cy="1019.0" r="6.1"/>
</g>
<g fill="#fcf8b2">
<circle cx="1390.2" cy="1038.3" r="6.1"/>
</g>
<g fill="#fdca5d">
<circle cx="1383.1" cy="1045.7" r="6.1"/>
</g>
<g fill="#fcf8b2">
<circle cx="1382.1" cy="1047.5" r="6.1"/>
<circle cx="1447.2" cy="985.4" r="6.1"/>
<circle cx="1449.8" cy="981.2" r="6.1"/>
<circle cx="1452.5" cy="978.4" r="6.1"/>
</g>
<g fill="#ef4122">
<circle cx="1477.5" cy="1008.8" r="6.1"/>
</g>
<g fill="#fdca5d">
<circle cx="1442.7" cy="990.2" r="6.1"/>
</g>
<g fill="#fcf8b2">
<circle cx="1398.1" cy="1030.6" r="6.1"/>
<circle cx="1396.6" cy="1032.4" r="6.1"/>
<circle cx="1393.0" cy="1034.8" r="6.1"/>
<circle cx="1391.7" cy="1037.1" r="6.1"/>
<circle cx="1380.5" cy="1049.9" r="6.1"/>
</g>
<g fill="#ef4122">
<circle cx="1433.0" cy="1042.8" r="6.1"/>
</g>
<g fill="#fcf8b2">
<circle cx="1521.1" cy="916.4" r="6.1"/>
</g>
<g fill="#fdca5d">
<circle cx="1370.5" cy="1057.6" r="6.1"/>
</g>
<g fill="#fcf8b2">
<circle cx="1383.4" cy="1047.6" r="6.1"/>
</g>
<g fill="#fdca5d">
<circle cx="1524.0" cy="914.1" r="6.1"/>
</g>
<g fill="#ef4122">
<circle cx="1391.5" cy="1079.3" r="6.1"/>
</g>
<g fill="#fcf8b2">
<circle cx="1368.5" cy="1059.3" r="6.1"/>
<circle cx="1364.8" cy="1062.7" r="6.1"/>
<circle cx="1392.8" cy="1037.3" r="6.1"/>
</g>
<g fill="#fdca5d">
<circle cx="1384.9" cy="1044.3" r="6.1"/>
</g>
<g fill="#ef4122">
<circle cx="1439.5" cy="1036.5" r="6.1"/>
</g>
<g fill="#fdca5d">
<circle cx="1382.1" cy="1049.3" r="6.1"/>
<circle cx="1385.4" cy="1045.3" r="6.1"/>
</g>
<g fill="#fcf8b2">
<circle cx="1395.9" cy="1034.4" r="6.1"/>
<circle cx="1400.0" cy="1028.7" r="6.1"/>
<circle cx="1402.3" cy="1026.2" r="6.1"/>
<circle cx="1403.9" cy="1023.7" r="6.1"/>
<circle cx="1406.6" cy="1021.9" r="6.1"/>
<circle cx="1409.2" cy="1019.0" r="6.1"/>
<circle cx="1410.7" cy="1017.6" r="6.1"/>
<circle cx="1412.4" cy="1015.5" r="6.1"/>
<circle cx="1416.0" cy="1011.4" r="6.1"/>
</g>
<g fill="#fdca5d">
<circle cx="1444.3" cy="989.7" r="6.1"/>
<circle cx="1446.6" cy="987.2" r="6.1"/>
<circle cx="1448.0" cy="985.5" r="6.1"/>
</g>
<g fill="#f9913e">
<circle cx="1444.5" cy="990.4" r="6.1"/>
</g>
<g fill="#fcf8b2">
<circle cx="1350.4" cy="1076.5" r="6.1"/>
</g>
<g fill="#ef4122">
<circle cx="1402.0" cy="1072.5" r="6.1"/>
<circle cx="1367.4" cy="1105.5" r="6.1"/>
</g>
<g fill="#fcf8b2">
<circle cx="1365.9" cy="1062.1" r="6.1"/>
</g>
<g fill="#f9913e">
<circle cx="1345.0" cy="1128.1" r="6.1"/>
<circle cx="1380.0" cy="1085.3" r="6.1"/>
<circle cx="1530.5" cy="915.7" r="6.1"/>
<circle cx="1530.5" cy="934.3" r="6.1"/>
<circle cx="1530.5" cy="952.4" r="6.1"/>
</g>
<g fill="#fcf8b2">
<circle cx="1432.3" cy="998.5" r="6.1"/>
<circle cx="1429.9" cy="1001.0" r="6.1"/>
</g>
<g fill="#fdca5d">
<circle cx="1327.5" cy="1104.4" r="6.1"/>
</g>
<g fill="#fcf8b2">
<circle cx="1418.6" cy="1012.2" r="6.1"/>
<circle cx="1375.3" cy="1052.4" r="6.1"/>
<circle cx="1360.7" cy="1067.5" r="6.1"/>
</g>
<g fill="#f9913e">
<circle cx="1326.7" cy="1138.8" r="6.1"/>
<circle cx="1475.0" cy="1015.8" r="6.1"/>
</g>
<g fill="#fdca5d">
<circle cx="1428.4" cy="1003.4" r="6.1"/>
<circle cx="1431.1" cy="999.8" r="6.1"/>
<circle cx="1434.2" cy="997.5" r="6.1"/>
<circle cx="1437.6" cy="993.1" r="6.1"/>
<circle cx="1439.6" cy="992.0" r="6.1"/>
</g>
<g fill="#ef4122">
<circle cx="1373.1" cy="1085.6" r="6.1"/>
</g>
<g fill="#fdca5d">
<circle cx="1435.3" cy="998.6" r="6.1"/>
<circle cx="1466.5" cy="967.8" r="6.1"/>
<circle cx="1500.3" cy="937.0" r="6.1"/>
<circle cx="1474.2" cy="960.6" r="6.1"/>
</g>
<g fill="#ef4122">
<circle cx="1371.6" cy="1087.3" r="6.1"/>
<circle cx="1371.6" cy="1104.4" r="6.1"/>
</g>
<g fill="#f9913e">
<circle cx="1436.7" cy="998.5" r="6.1"/>
</g>
<g fill="#fdca5d">
<circle cx="1350.2" cy="1077.4" r="6.1"/>
<circle cx="1347.4" cy="1079.4" r="6.1"/>
<circle cx="1524.2" cy="914.3" r="6.1"/>
<circle cx="1392.4" cy="1037.8" r="6.1"/>
<circle cx="1396.1" cy="1035.1" r="6.1"/>
</g>
<g fill="#f9913e">
<circle cx="1326.8" cy="1107.9" r="6.1"/>
<circle cx="1326.8" cy="1110.6" r="6.1"/>
</g>
<g fill="#fcf8b2">
<circle cx="1410.8" cy="1020.2" r="6.1"/>
<circle cx="1488.2" cy="946.5" r="6.1"/>
</g>
<g fill="#ef4122">
<circle cx="1324.5" cy="1115.2" r="6.1"/>
<circle cx="1324.5" cy="1124.0" r="6.1"/>
<circle cx="1324.5" cy="1132.1" r="6.1"/>
</g>
<g fill="#fdca5d">
<circle cx="1418.8" cy="1012.6" r="6.1"/>
</g>
<g fill="#f9913e">
<circle cx="1380.2" cy="1080.1" r="6.1"/>
</g>
<g fill="#fdca5d">
<circle cx="1490.7" cy="944.4" r="6.1"/>
<circle cx="1495.2" cy="941.3" r="6.1"/>
<circle cx="1496.6" cy="940.5" r="6.1"/>
</g>
<g fill="#fcf8b2">
<circle cx="1398.3" cy="1031.0" r="6.1"/>
</g>
<g fill="#fdca5d">
<circle cx="1436.5" cy="998.7" r="6.1"/>
<circle cx="1476.0" cy="958.5" r="6.1"/>
</g>
<g fill="#ef4122">
<circle cx="1343.3" cy="1124.9" r="6.1"/>
</g>
<g fill="#fdca5d">
<circle cx="1398.4" cy="1032.2" r="6.1"/>
</g>
<g fill="#f9913e">
<circle cx="1371.5" cy="1093.8" r="6.1"/>
</g>
<g fill="#ef4122">
<circle cx="1420.8" cy="1055.7" r="6.1"/>
<circle cx="1326.1" cy="1123.0" r="6.1"/>
<circle cx="1326.1" cy="1132.2" r="6.1"/>
</g>
<g fill="#f9913e">
<circle cx="1512.1" cy="955.1" r="6.1"/>
<circle cx="1512.1" cy="972.6" r="6.1"/>
</g>
<g fill="#fdca5d">
<circle cx="1469.6" cy="964.9" r="6.1"/>
<circle cx="1479.7" cy="993.3" r="6.1"/>
</g>
<g fill="#f9913e">
<circle cx="1454.5" cy="980.8" r="6.1"/>
</g>
<g fill="#fcf8b2">
<circle cx="1353.2" cy="1078.6" r="6.1"/>
</g>
<g fill="#f9913e">
<circle cx="1529.3" cy="918.6" r="6.1"/>
<circle cx="1529.3" cy="928.7" r="6.1"/>
<circle cx="1529.3" cy="939.4" r="6.1"/>
<circle cx="1528.9" cy="914.9" r="6.1"/>
</g>
<g fill="#fdca5d">
<circle cx="1505.4" cy="931.0" r="6.1"/>
</g>
<g fill="#ef4122">
<circle cx="1414.6" cy="1058.7" r="6.1"/>
</g>
<g fill="#fdca5d">
<circle cx="1491.3" cy="944.3" r="6.1"/>
</g>
<g fill="#f9913e">
<circle cx="1524.5" cy="925.1" r="6.1"/>
<circle cx="1524.5" cy="931.2" r="6.1"/>
<circle cx="1524.5" cy="940.0" r="6.1"/>
<circle cx="1524.7" cy="916.8" r="6.1"/>
<circle cx="1526.9" cy="913.8" r="6.1"/>
</g>
<g fill="#ef4122">
<circle cx="1402.4" cy="1071.2" r="6.1"/>
</g>
<g fill="#fdca5d">
<circle cx="1381.2" cy="1051.0" r="6.1"/>
<circle cx="1388.2" cy="1043.1" r="6.1"/>
<circle cx="1512.7" cy="923.8" r="6.1"/>
<circle cx="1506.7" cy="929.7" r="6.1"/>
</g>
<g fill="#ef4122">
<circle cx="1468.2" cy="1017.5" r="6.1"/>
</g>
<g fill="#fcf8b2">
<circle cx="1376.3" cy="1053.7" r="6.1"/>
<circle cx="1478.2" cy="956.1" r="6.1"/>
</g>
<g fill="#f9913e">
<circle cx="1368.7" cy="1091.1" r="6.1"/>
</g>
<g fill="#ef4122">
<circle cx="1450.6" cy="1030.7" r="6.1"/>
</g>
<g fill="#fdca5d">
<circle cx="1522.1" cy="918.7" r="6.1"/>
</g>
<g fill="#f9913e">
<circle cx="1325.6" cy="1113.0" r="6.1"/>
<circle cx="1325.6" cy="1116.5" r="6.1"/>
</g>
<g fill="#fcf8b2">
<circle cx="1346.5" cy="1082.7" r="6.1"/>
<circle cx="1367.1" cy="1061.2" r="6.1"/>
</g>
<g fill="#ef4122">
<circle cx="1347.5" cy="1083.8" r="6.1"/>
</g>
<g fill="#fcf8b2">
<circle cx="1389.5" cy="1041.1" r="6.1"/>
</g>
<g fill="#f9913e">
<circle cx="1391.6" cy="1082.8" r="6.1"/>
</g>
<g fill="#fdca5d">
<circle cx="1470.8" cy="963.4" r="6.1"/>
<circle cx="1470.8" cy="966.4" r="6.1"/>
</g>
<g fill="#f9913e">
<circle cx="1521.7" cy="940.8" r="6.1"/>
<circle cx="1521.7" cy="961.4" r="6.1"/>
</g>
<g fill="#fdca5d">
<circle cx="1374.1" cy="1055.1" r="6.1"/>
</g>
<g fill="#ef4122">
<circle cx="1414.1" cy="1054.9" r="6.1"/>
<circle cx="1414.1" cy="1068.3" r="6.1"/>
</g>
<g fill="#fcf8b2">
<circle cx="1416.6" cy="1014.5" r="6.1"/>
<circle cx="1408.8" cy="1021.7" r="6.1"/>
<circle cx="1406.2" cy="1023.7" r="6.1"/>
</g>
<g fill="#ef4122">
<circle cx="1412.4" cy="1052.2" r="6.1"/>
<circle cx="1412.4" cy="1066.4" r="6.1"/>
</g>
<g fill="#fdca5d">
<circle cx="1450.2" cy="985.2" r="6.1"/>
</g>
<g fill="#ef4122">
<circle cx="1390.8" cy="1072.5" r="6.1"/>
</g>
<g fill="#fdca5d">
<circle cx="1375.9" cy="1054.3" r="6.1"/>
</g>
<g fill="#f9913e">
<circle cx="1390.3" cy="1080.7" r="6.1"/>
</g>
<g fill="#fcf8b2">
<circle cx="1518.8" cy="919.2" r="6.1"/>
<circle cx="1518.8" cy="933.8" r="6.1"/>
<circle cx="1518.8" cy="952.6" r="6.1"/>
</g>
<g fill="#fdca5d">
<circle cx="1491.1" cy="946.4" r="6.1"/>
</g>
<g fill="#ef4122">
<circle cx="1363.3" cy="1097.4" r="6.1"/>
<circle cx="1363.3" cy="1107.3" r="6.1"/>
<circle cx="1398.9" cy="1068.6" r="6.1"/>
</g>
<g fill="#f9913e">
<circle cx="1387.6" cy="1084.6" r="6.1"/>
</g>
<g fill="#fcf8b2">
<circle cx="1455.6" cy="977.8" r="6.1"/>
<circle cx="1421.6" cy="1009.1" r="6.1"/>
</g>
<g fill="#fdca5d">
<circle cx="1488.6" cy="983.9" r="6.1"/>
</g>
<g fill="#fcf8b2">
<circle cx="1507.4" cy="930.7" r="6.1"/>
<circle cx="1511.2" cy="926.4" r="6.1"/>
<circle cx="1514.1" cy="923.6" r="6.1"/>
</g>
<g fill="#ef4122">
<circle cx="1409.1" cy="1064.4" r="6.1"/>
</g>
<g fill="#fcf8b2">
<circle cx="1430.2" cy="1000.6" r="6.1"/>
</g>
<g fill="#f9913e">
<circle cx="1355.8" cy="1115.9" r="6.1"/>
<circle cx="1381.9" cy="1063.1" r="6.1"/>
<circle cx="1381.9" cy="1072.8" r="6.1"/>
</g>
<g fill="#fdca5d">
<circle cx="1452.5" cy="983.7" r="6.1"/>
<circle cx="1445.4" cy="991.6" r="6.1"/>
<circle cx="1441.4" cy="994.2" r="6.1"/>
<circle cx="1438.0" cy="997.4" r="6.1"/>
<circle cx="1431.3" cy="1000.8" r="6.1"/>
<circle cx="1428.8" cy="1003.5" r="6.1"/>
<circle cx="1427.3" cy="1006.1" r="6.1"/>
<circle cx="1423.9" cy="1010.6" r="6.1"/>
<circle cx="1420.5" cy="1014.9" r="6.1"/>
</g>
<g fill="#fcf8b2">
<circle cx="1463.8" cy="969.1" r="6.1"/>
</g>
<g fill="#fdca5d">
<circle cx="1329.6" cy="1100.4" r="6.1"/>
<circle cx="1329.6" cy="1112.0" r="6.1"/>
<circle cx="1480.2" cy="955.5" r="6.1"/>
</g>
<g fill="#ef4122">
<circle cx="1469.2" cy="996.5" r="6.1"/>
</g>
<g fill="#f9913e">
<circle cx="1476.3" cy="988.5" r="6.1"/>
<circle cx="1476.3" cy="1007.0" r="6.1"/>
</g>
<g fill="#fdca5d">
<circle cx="1411.2" cy="1020.2" r="6.1"/>
<circle cx="1407.9" cy="1023.4" r="6.1"/>
<circle cx="1405.5" cy="1027.0" r="6.1"/>
<circle cx="1397.7" cy="1033.7" r="6.1"/>
</g>
<g fill="#f9913e">
<circle cx="1437.9" cy="999.7" r="6.1"/>
<circle cx="1434.9" cy="1003.0" r="6.1"/>
<circle cx="1431.2" cy="1005.6" r="6.1"/>
<circle cx="1429.5" cy="1008.6" r="6.1"/>
<circle cx="1426.0" cy="1012.6" r="6.1"/>
</g>
<g fill="#fdca5d">
<circle cx="1415.8" cy="1015.3" r="6.1"/>
<circle cx="1465.7" cy="971.1" r="6.1"/>
<circle cx="1465.7" cy="978.4" r="6.1"/>
<circle cx="1465.7" cy="984.4" r="6.1"/>
<circle cx="1370.3" cy="1058.2" r="6.1"/>
</g>
<g fill="#ef4122">
<circle cx="1372.3" cy="1068.7" r="6.1"/>
<circle cx="1372.3" cy="1076.6" r="6.1"/>
<circle cx="1372.3" cy="1082.7" r="6.1"/>
</g>
<g fill="#fdca5d">
<circle cx="1391.1" cy="1060.3" r="6.1"/>
</g>
<g fill="#f9913e">
<circle cx="1398.6" cy="1048.7" r="6.1"/>
</g>
<g fill="#fdca5d">
<circle cx="1384.8" cy="1046.5" r="6.1"/>
<circle cx="1384.8" cy="1060.2" r="6.1"/>
</g>
<g fill="#f9913e">
<circle cx="1472.2" cy="972.5" r="6.1"/>
<circle cx="1426.7" cy="1013.8" r="6.1"/>
</g>
<g fill="#fcf8b2">
<circle cx="1382.1" cy="1051.0" r="6.1"/>
<circle cx="1383.8" cy="1050.6" r="6.1"/>
<circle cx="1385.6" cy="1049.1" r="6.1"/>
<circle cx="1387.6" cy="1045.0" r="6.1"/>
<circle cx="1424.3" cy="1018.9" r="6.1"/>
<circle cx="1427.9" cy="1015.7" r="6.1"/>
</g>
<g fill="#f9913e">
<circle cx="1420.7" cy="1020.9" r="6.1"/>
<circle cx="1420.7" cy="1051.1" r="6.1"/>
</g>
<g fill="#ef4122">
<circle cx="1379.0" cy="1057.5" r="6.1"/>
<circle cx="1381.0" cy="1056.4" r="6.1"/>
<circle cx="1384.8" cy="1053.7" r="6.1"/>
<circle cx="1386.5" cy="1051.4" r="6.1"/>
<circle cx="1388.0" cy="1051.2" r="6.1"/>
<circle cx="1391.1" cy="1047.2" r="6.1"/>
<circle cx="1343.8" cy="1122.2" r="6.1"/>
<circle cx="1348.3" cy="1096.2" r="6.1"/>
</g>
<g fill="#fdca5d">
<circle cx="1413.8" cy="1017.1" r="6.1"/>
<circle cx="1413.8" cy="1025.8" r="6.1"/>
</g>
<g fill="#fcf8b2">
<circle cx="1408.9" cy="1026.2" r="6.1"/>
<circle cx="1408.9" cy="1033.7" r="6.1"/>
<circle cx="1408.9" cy="1042.3" r="6.1"/>
</g>
<g fill="#fdca5d">
<circle cx="1522.0" cy="920.1" r="6.1"/>
<circle cx="1522.0" cy="926.1" r="6.1"/>
<circle cx="1522.0" cy="932.3" r="6.1"/>
<circle cx="1453.1" cy="983.8" r="6.1"/>
<circle cx="1456.8" cy="981.3" r="6.1"/>
<circle cx="1465.6" cy="972.2" r="6.1"/>
<circle cx="1468.8" cy="967.9" r="6.1"/>
<circle cx="1470.9" cy="966.8" r="6.1"/>
</g>
<g fill="#f9913e">
<circle cx="1447.1" cy="991.6" r="6.1"/>
</g>
<g fill="#fcf8b2">
<circle cx="1439.1" cy="997.3" r="6.1"/>
<circle cx="1459.8" cy="975.3" r="6.1"/>
<circle cx="1459.8" cy="984.3" r="6.1"/>
<circle cx="1497.2" cy="940.5" r="6.1"/>
</g>
<g fill="#ef4122">
<circle cx="1385.7" cy="1060.5" r="6.1"/>
<circle cx="1385.7" cy="1069.0" r="6.1"/>
<circle cx="1385.7" cy="1081.6" r="6.1"/>
</g>
<g fill="#fdca5d">
<circle cx="1506.2" cy="931.9" r="6.1"/>
<circle cx="1508.1" cy="930.8" r="6.1"/>
</g>
<g fill="#f9913e">
<circle cx="1465.3" cy="975.4" r="6.1"/>
<circle cx="1465.3" cy="992.5" r="6.1"/>
<circle cx="1465.3" cy="1012.6" r="6.1"/>
</g>
<g fill="#fcf8b2">
<circle cx="1449.0" cy="986.6" r="6.1"/>
<circle cx="1344.2" cy="1083.7" r="6.1"/>
<circle cx="1344.2" cy="1111.1" r="6.1"/>
</g>
<g fill="#fdca5d">
<circle cx="1502.7" cy="933.4" r="6.1"/>
<circle cx="1368.0" cy="1060.6" r="6.1"/>
<circle cx="1368.0" cy="1062.5" r="6.1"/>
<circle cx="1368.0" cy="1065.2" r="6.1"/>
</g>
<g fill="#f9913e">
<circle cx="1496.1" cy="968.5" r="6.1"/>
</g>
<g fill="#fcf8b2">
<circle cx="1354.2" cy="1076.2" r="6.1"/>
<circle cx="1354.2" cy="1085.4" r="6.1"/>
<circle cx="1354.2" cy="1099.5" r="6.1"/>
<circle cx="1360.4" cy="1070.8" r="6.1"/>
<circle cx="1360.4" cy="1091.7" r="6.1"/>
</g>
<g fill="#ef4122">
<circle cx="1458.9" cy="1011.8" r="6.1"/>
</g>
<g fill="#fcf8b2">
<circle cx="1515.7" cy="926.6" r="6.1"/>
<circle cx="1515.7" cy="930.4" r="6.1"/>
</g>
<g fill="#f9913e">
<circle cx="1410.3" cy="1026.5" r="6.1"/>
<circle cx="1410.3" cy="1046.3" r="6.1"/>
<circle cx="1410.3" cy="1061.4" r="6.1"/>
</g>
<g fill="#ef4122">
<circle cx="1424.6" cy="1022.8" r="6.1"/>
<circle cx="1447.0" cy="1001.1" r="6.1"/>
<circle cx="1447.0" cy="1008.9" r="6.1"/>
<circle cx="1447.0" cy="1016.5" r="6.1"/>
</g>
<g fill="#fcf8b2">
<circle cx="1403.9" cy="1028.3" r="6.1"/>
<circle cx="1403.9" cy="1042.9" r="6.1"/>
<circle cx="1403.9" cy="1058.8" r="6.1"/>
</g>
<g fill="#ef4122">
<circle cx="1430.0" cy="1017.1" r="6.1"/>
<circle cx="1430.0" cy="1035.6" r="6.1"/>
<circle cx="1459.5" cy="991.4" r="6.1"/>
<circle cx="1459.5" cy="1004.2" r="6.1"/>
<circle cx="1459.5" cy="1018.6" r="6.1"/>
<circle cx="1420.6" cy="1030.7" r="6.1"/>
<circle cx="1420.6" cy="1034.8" r="6.1"/>
<circle cx="1420.6" cy="1041.1" r="6.1"/>
</g>
<g fill="#fdca5d">
<circle cx="1392.5" cy="1038.0" r="6.1"/>
<circle cx="1392.5" cy="1048.6" r="6.1"/>
<circle cx="1392.5" cy="1058.3" r="6.1"/>
</g>
<g fill="#fcf8b2">
<circle cx="1356.5" cy="1070.9" r="6.1"/>
<circle cx="1356.5" cy="1077.1" r="6.1"/>
<circle cx="1356.5" cy="1082.0" r="6.1"/>
</g>
<g fill="#fdca5d">
<circle cx="1481.1" cy="954.6" r="6.1"/>
<circle cx="1481.1" cy="967.4" r="6.1"/>
<circle cx="1481.1" cy="980.0" r="6.1"/>
</g>
<g fill="#ef4122">
<circle cx="1434.7" cy="1026.8" r="6.1"/>
<circle cx="1434.7" cy="1040.6" r="6.1"/>
</g>
<g fill="#fcf8b2">
<circle cx="1399.0" cy="1032.1" r="6.1"/>
<circle cx="1399.0" cy="1045.2" r="6.1"/>
<circle cx="1399.0" cy="1055.8" r="6.1"/>
</g>
<g fill="#ef4122">
<circle cx="1505.4" cy="951.0" r="6.1"/>
<circle cx="1505.4" cy="962.9" r="6.1"/>
<circle cx="1505.4" cy="980.1" r="6.1"/>
<circle cx="1354.1" cy="1085.9" r="6.1"/>
<circle cx="1354.1" cy="1101.2" r="6.1"/>
<circle cx="1354.1" cy="1113.3" r="6.1"/>
</g>
<g fill="#fdca5d">
<circle cx="1337.0" cy="1107.1" r="6.1"/>
<circle cx="1337.0" cy="1118.5" r="6.1"/>
</g>
<g fill="#ef4122">
<circle cx="1501.1" cy="950.8" r="6.1"/>
<circle cx="1501.1" cy="968.5" r="6.1"/>
<circle cx="1501.1" cy="981.0" r="6.1"/>
</g>
<g fill="#fcf8b2">
<circle cx="1389.9" cy="1038.9" r="6.1"/>
<circle cx="1389.9" cy="1042.2" r="6.1"/>
<circle cx="1389.9" cy="1045.7" r="6.1"/>
</g>
<g fill="#fdca5d">
<circle cx="1498.4" cy="938.6" r="6.1"/>
<circle cx="1498.4" cy="950.8" r="6.1"/>
<circle cx="1498.4" cy="961.3" r="6.1"/>
</g>
<g fill="#ef4122">
<circle cx="1417.4" cy="1030.0" r="6.1"/>
<circle cx="1417.4" cy="1038.7" r="6.1"/>
<circle cx="1417.4" cy="1044.9" r="6.1"/>
<circle cx="1440.6" cy="1014.0" r="6.1"/>
<circle cx="1440.6" cy="1035.7" r="6.1"/>
<circle cx="1343.4" cy="1096.1" r="6.1"/>
<circle cx="1343.4" cy="1099.3" r="6.1"/>
<circle cx="1343.4" cy="1103.2" r="6.1"/>
</g>
<g fill="#f9913e">
<circle cx="1488.0" cy="959.0" r="6.1"/>
<circle cx="1488.0" cy="971.9" r="6.1"/>
<circle cx="1488.0" cy="981.6" r="6.1"/>
<circle cx="1483.4" cy="959.8" r="6.1"/>
<circle cx="1483.4" cy="976.5" r="6.1"/>
<circle cx="1483.4" cy="996.5" r="6.1"/>
</g>
<g fill="#ef4122">
<circle cx="1324.7" cy="1118.9" r="6.1"/>
<circle cx="1324.7" cy="1136.0" r="6.1"/>
<circle cx="1324.7" cy="1149.0" r="6.1"/>
<circle cx="1432.8" cy="1018.5" r="6.1"/>
<circle cx="1432.8" cy="1036.5" r="6.1"/>
<circle cx="1432.8" cy="1053.7" r="6.1"/>
</g>
<g fill="#f9913e">
<circle cx="1457.5" cy="981.5" r="6.1"/>
<circle cx="1453.9" cy="986.1" r="6.1"/>
<circle cx="1451.4" cy="990.0" r="6.1"/>
<circle cx="1448.7" cy="992.6" r="6.1"/>
<circle cx="1446.0" cy="994.8" r="6.1"/>
<circle cx="1442.2" cy="997.1" r="6.1"/>
<circle cx="1440.4" cy="999.7" r="6.1"/>
<circle cx="1436.8" cy="1002.0" r="6.1"/>
<circle cx="1433.0" cy="1005.4" r="6.1"/>
<circle cx="1430.3" cy="1008.9" r="6.1"/>
<circle cx="1365.5" cy="1072.7" r="6.1"/>
<circle cx="1365.5" cy="1086.1" r="6.1"/>
<circle cx="1365.5" cy="1101.0" r="6.1"/>
</g>
<g fill="#c01a2b">
<circle cx="1139.9" cy="1284.4" r="6.1"/>
<circle cx="1139.9" cy="1294.7" r="6.1"/>
<circle cx="1139.9" cy="1301.5" r="6.1"/>
<circle cx="1161.8" cy="1263.7" r="6.1"/>
<circle cx="1161.8" cy="1275.7" r="6.1"/>
<circle cx="1161.8" cy="1282.4" r="6.1"/>
<circle cx="1190.9" cy="1240.6" r="6.1"/>
<circle cx="1191.6" cy="1255.5" r="6.1"/>
<circle cx="1191.6" cy="1264.5" r="6.1"/>
<circle cx="1200.6" cy="1222.7" r="6.1"/>
<circle cx="1200.6" cy="1230.9" r="6.1"/>
<circle cx="1200.6" cy="1238.4" r="6.1"/>
</g>
<g fill="#ef4122">
<circle cx="1214.0" cy="1207.0" r="6.1"/>
<circle cx="1214.0" cy="1214.5" r="6.1"/>
<circle cx="1214.0" cy="1221.2" r="6.1"/>
</g>
<g fill="#f9913e">
<circle cx="1230.4" cy="1191.3" r="6.1"/>
<circle cx="1230.4" cy="1197.3" r="6.1"/>
<circle cx="1230.4" cy="1204.0" r="6.1"/>
</g>
<g fill="#c01a2b">
<circle cx="1238.7" cy="1189.9" r="6.1"/>
<circle cx="1238.7" cy="1198.8" r="6.1"/>
<circle cx="1238.7" cy="1207.8" r="6.1"/>
</g>
<g fill="#ef4122">
<circle cx="1246.9" cy="1177.9" r="6.1"/>
<circle cx="1251.3" cy="1172.7" r="6.1"/>
<circle cx="1248.4" cy="1183.9" r="6.1"/>
<circle cx="1245.4" cy="1192.8" r="6.1"/>
<circle cx="1251.3" cy="1187.6" r="6.1"/>
</g>
<g fill="#c01a2b">
<circle cx="1261.0" cy="1171.2" r="6.1"/>
<circle cx="1261.0" cy="1185.4" r="6.1"/>
<circle cx="1261.0" cy="1193.6" r="6.1"/>
</g>
<g fill="#f9913e">
<circle cx="1276.7" cy="1145.1" r="6.1"/>
<circle cx="1276.7" cy="1152.5" r="6.1"/>
<circle cx="1276.7" cy="1161.5" r="6.1"/>
<circle cx="1284.2" cy="1139.1" r="6.1"/>
<circle cx="1284.2" cy="1148.1" r="6.1"/>
<circle cx="1284.2" cy="1157.0" r="6.1"/>
</g>
<g fill="#c01a2b">
<circle cx="1305.8" cy="1149.6" r="6.1"/>
<circle cx="1305.8" cy="1160.0" r="6.1"/>
<circle cx="1299.1" cy="1155.5" r="6.1"/>
</g>
<g fill="#f9913e">
<circle cx="1302.1" cy="1122.7" r="6.1"/>
<circle cx="1302.1" cy="1130.1" r="6.1"/>
<circle cx="1302.1" cy="1137.6" r="6.1"/>
</g>
<g fill="#ef4122">
<circle cx="1297.6" cy="1131.6" r="6.1"/>
<circle cx="1297.6" cy="1140.6" r="6.1"/>
<circle cx="1297.6" cy="1149.6" r="6.1"/>
</g>
<g fill="#c01a2b">
<circle cx="1327.5" cy="1125.7" r="6.1"/>
<circle cx="1327.5" cy="1133.9" r="6.1"/>
<circle cx="1337.9" cy="1127.2" r="6.1"/>
<circle cx="1337.9" cy="1137.6" r="6.1"/>
<circle cx="1331.9" cy="1137.6" r="6.1"/>
</g>
<g fill="#f9913e">
<circle cx="1329.0" cy="1095.8" r="6.1"/>
<circle cx="1331.2" cy="1117.5" r="6.1"/>
</g>
<g fill="#fdca5d">
<circle cx="1330.4" cy="1089.9" r="6.1"/>
<circle cx="1329.0" cy="1104.8" r="6.1"/>
</g>
<g fill="#fcf8b2">
<circle cx="1339.4" cy="1082.4" r="6.1"/>
<circle cx="1339.4" cy="1090.6" r="6.1"/>
<circle cx="1340.1" cy="1098.1" r="6.1"/>
</g>
<g fill="#c01a2b">
<circle cx="1386.0" cy="1108.8" r="6.1"/>
<circle cx="1386.0" cy="1127.5" r="6.1"/>
<circle cx="1412.8" cy="1084.9" r="6.1"/>
<circle cx="1406.1" cy="1074.5" r="6.1"/>
<circle cx="1424.8" cy="1055.1" r="6.1"/>
<circle cx="1380.0" cy="1096.1" r="6.1"/>
<circle cx="1362.1" cy="1110.3" r="6.1"/>
<circle cx="1327.8" cy="1133.4" r="6.1"/>
<circle cx="1338.2" cy="1127.5" r="6.1"/>
<circle cx="1338.2" cy="1137.2" r="6.1"/>
</g>
<g fill="#ef4122">
<circle cx="1475.5" cy="1014.0" r="6.1"/>
<circle cx="1500.9" cy="982.7" r="6.1"/>
<circle cx="1434.5" cy="1040.1" r="6.1"/>
<circle cx="1424.8" cy="1048.4" r="6.1"/>
<circle cx="1411.3" cy="1052.8" r="6.1"/>
<circle cx="1390.4" cy="1072.2" r="6.1"/>
<circle cx="1361.3" cy="1096.1" r="6.1"/>
<circle cx="1353.1" cy="1107.3" r="6.1"/>
<circle cx="1558.1" cy="951.3" r="6.1"/>
<circle cx="1556.6" cy="933.4" r="6.1"/>
<circle cx="1561.8" cy="931.9" r="6.1"/>
<circle cx="1561.8" cy="917.0" r="6.1"/>
<circle cx="1558.1" cy="902.1" r="6.1"/>
<circle cx="1561.8" cy="889.4" r="6.1"/>
</g>
<g fill="#fdca5d">
<circle cx="1545.1" cy="933.4" r="6.1"/>
<circle cx="1545.1" cy="921.5" r="6.1"/>
<circle cx="1545.1" cy="899.1" r="6.1"/>
</g>
<g fill="#f9913e">
<circle cx="1581.9" cy="910.3" r="6.1"/>
<circle cx="1581.9" cy="894.6" r="6.1"/>
<circle cx="1581.9" cy="869.3" r="6.1"/>
<circle cx="1517.0" cy="967.8" r="6.1"/>
<circle cx="1526.7" cy="958.1" r="6.1"/>
<circle cx="1526.7" cy="944.6" r="6.1"/>
<circle cx="1526.7" cy="920.7" r="6.1"/>
</g>
<g fill="#fdca5d">
<circle cx="1517.8" cy="951.3" r="6.1"/>
<circle cx="1517.8" cy="921.5" r="6.1"/>
</g>
<g fill="#fcf8b2">
<circle cx="1513.3" cy="933.4" r="6.1"/>
<circle cx="1514.0" cy="942.4" r="6.1"/>
<circle cx="1513.3" cy="918.5" r="6.1"/>
</g>
<g fill="#ef4122">
<circle cx="1501.3" cy="982.7" r="6.1"/>
<circle cx="1476.0" cy="1014.0" r="6.1"/>
<circle cx="1454.3" cy="1026.7" r="6.1"/>
<circle cx="1445.4" cy="1034.9" r="6.1"/>
<circle cx="1434.9" cy="1039.4" r="6.1"/>
<circle cx="1425.2" cy="1046.9" r="6.1"/>
</g>
<g fill="#f9913e">
<circle cx="1502.1" cy="973.7" r="6.1"/>
<circle cx="1487.2" cy="987.9" r="6.1"/>
<circle cx="1469.3" cy="999.9" r="6.1"/>
<circle cx="1445.4" cy="1021.5" r="6.1"/>
<circle cx="1435.7" cy="1028.2" r="6.1"/>
<circle cx="1502.1" cy="940.9" r="6.1"/>
</g>
<g fill="#fdca5d">
<circle cx="1491.6" cy="946.1" r="6.1"/>
<circle cx="1475.2" cy="959.6" r="6.1"/>
<circle cx="1491.6" cy="973.7" r="6.1"/>
<circle cx="1475.2" cy="986.4" r="6.1"/>
</g>
<g fill="#fcf8b2">
<circle cx="1482.7" cy="948.4" r="6.1"/>
<circle cx="1482.7" cy="973.7" r="6.1"/>
<circle cx="1455.1" cy="973.7" r="6.1"/>
<circle cx="1455.1" cy="984.2" r="6.1"/>
<circle cx="1455.1" cy="994.6" r="6.1"/>
</g>
</g>
<line x1="1085.18" y1="1322.12" x2="1651.11" y2="756.19" stroke="#000" stroke-width="3.3" stroke-dasharray="4.4 12.903"/>
<g stroke="#000" stroke-width="2.1">
<circle cx="1124.8" cy="1519.9" r="6.3" fill="#fcf8b2"/>
<circle cx="1239.0" cy="1519.9" r="6.3" fill="#fdca5d"/>
<circle cx="1353.2" cy="1519.9" r="6.3" fill="#f9913e"/>
<circle cx="1467.4" cy="1519.9" r="6.3" fill="#ef4122"/>
<circle cx="1581.6" cy="1519.9" r="6.3" fill="#c01a2b"/>
</g>
<text x="1170.5" y="1532.8" font-size="38">5</text>
<text x="1284.5" y="1532.8" font-size="38">4</text>
<text x="1399" y="1532.8" font-size="38">3</text>
<text x="1513" y="1532.8" font-size="38">2</text>
<text x="1627" y="1532.8" font-size="38">1</text>
</g>
</svg>
</body></html>
